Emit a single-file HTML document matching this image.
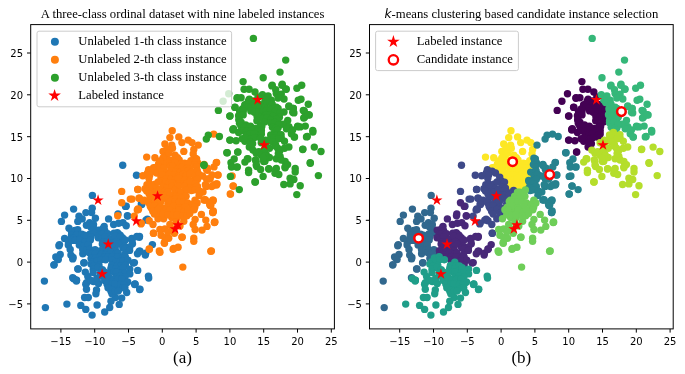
<!DOCTYPE html>
<html lang="en"><head><meta charset="utf-8"><title>Scatter figure</title><style>html,body{margin:0;padding:0;background:#fff}svg{display:block}</style></head><body>
<svg width="685" height="374" viewBox="0 0 685 374">
<rect width="685" height="374" fill="#fff"/>
<g opacity="0.999">
<defs><clipPath id="cl"><rect x="30.7" y="24.6" width="303.7" height="304.3"/></clipPath><clipPath id="cr"><rect x="369.5" y="24.6" width="303.7" height="304.3"/></clipPath></defs>
<g clip-path="url(#cl)">
<g fill="#1f77b4"><circle cx="44.4" cy="281.1" r="3.7"/><circle cx="45.4" cy="307.6" r="3.7"/><circle cx="66.9" cy="304.1" r="3.7"/><circle cx="54.1" cy="264.6" r="3.7"/><circle cx="57.1" cy="258.0" r="3.7"/><circle cx="78.1" cy="269.0" r="3.7"/><circle cx="73.7" cy="278.7" r="3.7"/><circle cx="76.5" cy="280.1" r="3.7"/><circle cx="145.3" cy="255.0" r="3.7"/><circle cx="148.4" cy="276.1" r="3.7"/><circle cx="137.7" cy="270.4" r="3.7"/><circle cx="133.3" cy="263.0" r="3.7"/><circle cx="139.7" cy="289.5" r="3.7"/><circle cx="134.7" cy="284.5" r="3.7"/><circle cx="83.8" cy="263.0" r="3.7"/><circle cx="73.1" cy="257.4" r="3.7"/><circle cx="92.4" cy="195.4" r="3.7"/><circle cx="125.5" cy="206.4" r="3.7"/><circle cx="127.7" cy="216.1" r="3.7"/><circle cx="141.3" cy="204.1" r="3.7"/><circle cx="147.4" cy="219.1" r="3.7"/><circle cx="139.3" cy="237.2" r="3.7"/><circle cx="131.7" cy="239.6" r="3.7"/><circle cx="152.4" cy="244.6" r="3.7"/><circle cx="139.3" cy="251.2" r="3.7"/><circle cx="132.0" cy="240.2" r="3.7"/><circle cx="140.0" cy="251.2" r="3.7"/><circle cx="146.0" cy="220.1" r="3.7"/><circle cx="122.7" cy="165.2" r="3.7"/><circle cx="136.5" cy="175.2" r="3.7"/><circle cx="141.7" cy="204.6" r="3.7"/><circle cx="139.5" cy="236.4" r="3.7"/><circle cx="73.6" cy="209.1" r="3.7"/><circle cx="64.6" cy="215.1" r="3.7"/><circle cx="61.4" cy="221.4" r="3.7"/><circle cx="92.2" cy="208.2" r="3.7"/><circle cx="91.6" cy="212.6" r="3.7"/><circle cx="85.9" cy="212.6" r="3.7"/><circle cx="79.0" cy="216.3" r="3.7"/><circle cx="82.2" cy="218.9" r="3.7"/><circle cx="77.8" cy="221.4" r="3.7"/><circle cx="95.4" cy="218.2" r="3.7"/><circle cx="89.7" cy="222.6" r="3.7"/><circle cx="93.5" cy="224.5" r="3.7"/><circle cx="69.0" cy="228.3" r="3.7"/><circle cx="71.5" cy="231.4" r="3.7"/><circle cx="108.6" cy="218.9" r="3.7"/><circle cx="104.2" cy="226.4" r="3.7"/><circle cx="126.2" cy="206.3" r="3.7"/><circle cx="118.0" cy="214.0" r="3.7"/><circle cx="127.4" cy="215.7" r="3.7"/><circle cx="113.6" cy="224.5" r="3.7"/><circle cx="118.6" cy="223.3" r="3.7"/><circle cx="123.0" cy="222.6" r="3.7"/><circle cx="126.2" cy="225.8" r="3.7"/><circle cx="64.6" cy="238.4" r="3.7"/><circle cx="68.3" cy="241.5" r="3.7"/><circle cx="59.5" cy="244.6" r="3.7"/><circle cx="117.4" cy="232.7" r="3.7"/><circle cx="122.4" cy="237.7" r="3.7"/><circle cx="131.8" cy="238.4" r="3.7"/><circle cx="136.9" cy="236.5" r="3.7"/><circle cx="58.9" cy="245.7" r="3.7"/><circle cx="60.2" cy="254.5" r="3.7"/><circle cx="55.8" cy="257.0" r="3.7"/><circle cx="58.3" cy="259.5" r="3.7"/><circle cx="53.9" cy="265.1" r="3.7"/><circle cx="68.3" cy="245.0" r="3.7"/><circle cx="70.2" cy="249.4" r="3.7"/><circle cx="70.9" cy="255.1" r="3.7"/><circle cx="72.7" cy="258.9" r="3.7"/><circle cx="77.8" cy="268.9" r="3.7"/><circle cx="84.1" cy="262.6" r="3.7"/><circle cx="72.7" cy="277.7" r="3.7"/><circle cx="76.5" cy="280.2" r="3.7"/><circle cx="85.3" cy="272.1" r="3.7"/><circle cx="87.8" cy="276.5" r="3.7"/><circle cx="86.6" cy="282.8" r="3.7"/><circle cx="93.5" cy="281.5" r="3.7"/><circle cx="98.5" cy="283.4" r="3.7"/><circle cx="82.8" cy="253.8" r="3.7"/><circle cx="88.5" cy="251.3" r="3.7"/><circle cx="82.2" cy="243.8" r="3.7"/><circle cx="86.6" cy="245.7" r="3.7"/><circle cx="134.4" cy="262.6" r="3.7"/><circle cx="137.5" cy="253.8" r="3.7"/><circle cx="132.5" cy="243.8" r="3.7"/><circle cx="135.0" cy="284.0" r="3.7"/><circle cx="145.7" cy="253.2" r="3.7"/><circle cx="76.4" cy="281.1" r="3.7"/><circle cx="85.8" cy="284.3" r="3.7"/><circle cx="86.5" cy="289.3" r="3.7"/><circle cx="96.5" cy="289.9" r="3.7"/><circle cx="95.9" cy="293.7" r="3.7"/><circle cx="84.6" cy="297.5" r="3.7"/><circle cx="88.3" cy="297.5" r="3.7"/><circle cx="80.8" cy="305.4" r="3.7"/><circle cx="85.8" cy="309.4" r="3.7"/><circle cx="92.1" cy="315.1" r="3.7"/><circle cx="97.1" cy="305.0" r="3.7"/><circle cx="104.7" cy="312.0" r="3.7"/><circle cx="109.7" cy="307.5" r="3.7"/><circle cx="111.0" cy="301.3" r="3.7"/><circle cx="119.2" cy="304.4" r="3.7"/><circle cx="115.4" cy="297.5" r="3.7"/><circle cx="121.7" cy="298.1" r="3.7"/><circle cx="126.7" cy="292.5" r="3.7"/><circle cx="111.0" cy="291.2" r="3.7"/><circle cx="114.8" cy="286.8" r="3.7"/><circle cx="119.8" cy="285.5" r="3.7"/><circle cx="126.1" cy="283.0" r="3.7"/><circle cx="134.9" cy="284.3" r="3.7"/><circle cx="139.9" cy="289.3" r="3.7"/><circle cx="148.7" cy="278.0" r="3.7"/><circle cx="97.1" cy="281.8" r="3.7"/><circle cx="90.9" cy="280.5" r="3.7"/><circle cx="86.4" cy="225.3" r="3.7"/><circle cx="90.8" cy="227.0" r="3.7"/><circle cx="93.2" cy="226.7" r="3.7"/><circle cx="74.8" cy="230.5" r="3.7"/><circle cx="77.7" cy="229.6" r="3.7"/><circle cx="93.0" cy="229.9" r="3.7"/><circle cx="98.4" cy="230.1" r="3.7"/><circle cx="102.8" cy="228.7" r="3.7"/><circle cx="104.8" cy="230.8" r="3.7"/><circle cx="71.5" cy="235.0" r="3.7"/><circle cx="76.5" cy="235.2" r="3.7"/><circle cx="81.8" cy="234.1" r="3.7"/><circle cx="84.5" cy="235.2" r="3.7"/><circle cx="90.1" cy="234.0" r="3.7"/><circle cx="94.5" cy="232.9" r="3.7"/><circle cx="100.5" cy="234.0" r="3.7"/><circle cx="102.2" cy="234.1" r="3.7"/><circle cx="107.7" cy="233.8" r="3.7"/><circle cx="114.0" cy="233.3" r="3.7"/><circle cx="118.6" cy="234.1" r="3.7"/><circle cx="120.2" cy="235.1" r="3.7"/><circle cx="71.4" cy="238.3" r="3.7"/><circle cx="73.1" cy="238.5" r="3.7"/><circle cx="79.8" cy="239.0" r="3.7"/><circle cx="84.2" cy="236.5" r="3.7"/><circle cx="86.5" cy="236.1" r="3.7"/><circle cx="91.0" cy="236.8" r="3.7"/><circle cx="98.2" cy="237.8" r="3.7"/><circle cx="101.7" cy="238.8" r="3.7"/><circle cx="104.8" cy="237.0" r="3.7"/><circle cx="110.8" cy="239.2" r="3.7"/><circle cx="115.2" cy="236.1" r="3.7"/><circle cx="120.5" cy="236.8" r="3.7"/><circle cx="72.4" cy="240.4" r="3.7"/><circle cx="75.3" cy="240.4" r="3.7"/><circle cx="79.8" cy="240.3" r="3.7"/><circle cx="84.9" cy="242.3" r="3.7"/><circle cx="90.4" cy="240.0" r="3.7"/><circle cx="103.0" cy="242.4" r="3.7"/><circle cx="107.3" cy="241.8" r="3.7"/><circle cx="114.3" cy="242.7" r="3.7"/><circle cx="116.4" cy="241.6" r="3.7"/><circle cx="122.1" cy="242.6" r="3.7"/><circle cx="125.2" cy="240.0" r="3.7"/><circle cx="79.3" cy="245.1" r="3.7"/><circle cx="83.7" cy="246.3" r="3.7"/><circle cx="88.5" cy="244.7" r="3.7"/><circle cx="102.3" cy="244.1" r="3.7"/><circle cx="105.2" cy="246.5" r="3.7"/><circle cx="109.5" cy="245.9" r="3.7"/><circle cx="115.1" cy="246.8" r="3.7"/><circle cx="118.7" cy="244.1" r="3.7"/><circle cx="124.8" cy="246.4" r="3.7"/><circle cx="129.8" cy="246.9" r="3.7"/><circle cx="82.7" cy="249.6" r="3.7"/><circle cx="87.1" cy="249.9" r="3.7"/><circle cx="89.9" cy="249.4" r="3.7"/><circle cx="95.1" cy="249.6" r="3.7"/><circle cx="100.6" cy="250.7" r="3.7"/><circle cx="103.4" cy="250.9" r="3.7"/><circle cx="107.2" cy="248.2" r="3.7"/><circle cx="111.6" cy="249.4" r="3.7"/><circle cx="115.7" cy="250.8" r="3.7"/><circle cx="122.8" cy="247.9" r="3.7"/><circle cx="125.2" cy="248.9" r="3.7"/><circle cx="129.6" cy="250.4" r="3.7"/><circle cx="89.0" cy="252.6" r="3.7"/><circle cx="92.5" cy="253.6" r="3.7"/><circle cx="95.4" cy="253.6" r="3.7"/><circle cx="101.3" cy="254.3" r="3.7"/><circle cx="105.4" cy="254.6" r="3.7"/><circle cx="110.7" cy="252.3" r="3.7"/><circle cx="115.9" cy="253.7" r="3.7"/><circle cx="118.1" cy="253.1" r="3.7"/><circle cx="124.6" cy="254.7" r="3.7"/><circle cx="91.1" cy="258.4" r="3.7"/><circle cx="95.6" cy="257.9" r="3.7"/><circle cx="100.4" cy="256.7" r="3.7"/><circle cx="104.3" cy="257.1" r="3.7"/><circle cx="107.9" cy="256.9" r="3.7"/><circle cx="112.4" cy="256.7" r="3.7"/><circle cx="117.6" cy="257.0" r="3.7"/><circle cx="123.3" cy="257.8" r="3.7"/><circle cx="125.3" cy="257.0" r="3.7"/><circle cx="92.6" cy="262.0" r="3.7"/><circle cx="97.2" cy="261.0" r="3.7"/><circle cx="101.0" cy="259.8" r="3.7"/><circle cx="105.6" cy="259.8" r="3.7"/><circle cx="112.0" cy="260.1" r="3.7"/><circle cx="116.0" cy="262.3" r="3.7"/><circle cx="120.1" cy="261.4" r="3.7"/><circle cx="122.9" cy="261.0" r="3.7"/><circle cx="128.0" cy="260.3" r="3.7"/><circle cx="91.0" cy="264.1" r="3.7"/><circle cx="93.9" cy="266.2" r="3.7"/><circle cx="99.0" cy="265.4" r="3.7"/><circle cx="111.6" cy="265.5" r="3.7"/><circle cx="117.4" cy="265.6" r="3.7"/><circle cx="120.6" cy="265.9" r="3.7"/><circle cx="125.4" cy="265.1" r="3.7"/><circle cx="93.2" cy="269.3" r="3.7"/><circle cx="98.0" cy="267.5" r="3.7"/><circle cx="102.4" cy="269.7" r="3.7"/><circle cx="110.9" cy="268.5" r="3.7"/><circle cx="115.9" cy="268.8" r="3.7"/><circle cx="120.4" cy="270.5" r="3.7"/><circle cx="123.4" cy="267.8" r="3.7"/><circle cx="129.8" cy="269.1" r="3.7"/><circle cx="93.2" cy="272.5" r="3.7"/><circle cx="100.4" cy="273.5" r="3.7"/><circle cx="104.4" cy="271.9" r="3.7"/><circle cx="108.1" cy="273.2" r="3.7"/><circle cx="114.3" cy="271.9" r="3.7"/><circle cx="116.4" cy="272.1" r="3.7"/><circle cx="122.6" cy="272.8" r="3.7"/><circle cx="124.8" cy="272.9" r="3.7"/><circle cx="129.8" cy="273.9" r="3.7"/><circle cx="96.9" cy="278.2" r="3.7"/><circle cx="100.6" cy="276.1" r="3.7"/><circle cx="104.7" cy="276.6" r="3.7"/><circle cx="109.2" cy="277.2" r="3.7"/><circle cx="116.0" cy="277.4" r="3.7"/><circle cx="120.4" cy="276.3" r="3.7"/><circle cx="125.1" cy="276.6" r="3.7"/><circle cx="104.7" cy="280.4" r="3.7"/><circle cx="109.5" cy="279.2" r="3.7"/><circle cx="113.6" cy="279.5" r="3.7"/><circle cx="117.6" cy="279.2" r="3.7"/><circle cx="121.9" cy="279.1" r="3.7"/><circle cx="127.7" cy="282.0" r="3.7"/><circle cx="107.0" cy="284.0" r="3.7"/><circle cx="112.0" cy="283.9" r="3.7"/><circle cx="115.1" cy="284.0" r="3.7"/><circle cx="120.8" cy="284.2" r="3.7"/><circle cx="123.8" cy="284.7" r="3.7"/><circle cx="108.0" cy="287.7" r="3.7"/><circle cx="112.3" cy="289.9" r="3.7"/><circle cx="118.6" cy="289.7" r="3.7"/><circle cx="123.1" cy="287.7" r="3.7"/><circle cx="124.9" cy="287.7" r="3.7"/><circle cx="112.0" cy="293.8" r="3.7"/><circle cx="115.3" cy="291.0" r="3.7"/><circle cx="118.2" cy="291.1" r="3.7"/></g>
<g fill="#ff7f0e"><circle cx="117.7" cy="215.7" r="3.7"/><circle cx="121.7" cy="191.4" r="3.7"/><circle cx="121.7" cy="202.7" r="3.7"/><circle cx="130.3" cy="199.1" r="3.7"/><circle cx="137.7" cy="189.4" r="3.7"/><circle cx="139.3" cy="198.1" r="3.7"/><circle cx="144.3" cy="200.1" r="3.7"/><circle cx="137.3" cy="210.1" r="3.7"/><circle cx="134.3" cy="216.1" r="3.7"/><circle cx="141.3" cy="223.1" r="3.7"/><circle cx="149.4" cy="249.2" r="3.7"/><circle cx="160.0" cy="252.2" r="3.7"/><circle cx="153.4" cy="233.2" r="3.7"/><circle cx="132.0" cy="199.1" r="3.7"/><circle cx="173.1" cy="249.2" r="3.7"/><circle cx="178.1" cy="247.2" r="3.7"/><circle cx="164.5" cy="243.2" r="3.7"/><circle cx="182.2" cy="237.2" r="3.7"/><circle cx="193.8" cy="238.2" r="3.7"/><circle cx="193.8" cy="241.2" r="3.7"/><circle cx="210.8" cy="251.2" r="3.7"/><circle cx="214.9" cy="222.1" r="3.7"/><circle cx="212.8" cy="212.1" r="3.7"/><circle cx="210.2" cy="204.1" r="3.7"/><circle cx="213.2" cy="200.1" r="3.7"/><circle cx="205.2" cy="200.1" r="3.7"/><circle cx="230.3" cy="194.0" r="3.7"/><circle cx="233.3" cy="186.0" r="3.7"/><circle cx="216.3" cy="184.0" r="3.7"/><circle cx="213.7" cy="134.1" r="3.7"/><circle cx="216.3" cy="162.6" r="3.7"/><circle cx="207.3" cy="170.2" r="3.7"/><circle cx="216.6" cy="162.4" r="3.7"/><circle cx="233.1" cy="186.1" r="3.7"/><circle cx="230.5" cy="194.1" r="3.7"/><circle cx="232.1" cy="176.0" r="3.7"/><circle cx="212.0" cy="175.0" r="3.7"/><circle cx="218.1" cy="175.0" r="3.7"/><circle cx="209.0" cy="179.0" r="3.7"/><circle cx="206.0" cy="186.0" r="3.7"/><circle cx="214.0" cy="185.0" r="3.7"/><circle cx="217.0" cy="184.0" r="3.7"/><circle cx="204.0" cy="200.0" r="3.7"/><circle cx="210.0" cy="203.0" r="3.7"/><circle cx="213.0" cy="201.0" r="3.7"/><circle cx="213.0" cy="212.6" r="3.7"/><circle cx="214.4" cy="222.6" r="3.7"/><circle cx="172.2" cy="130.7" r="3.7"/><circle cx="169.9" cy="137.6" r="3.7"/><circle cx="178.8" cy="136.9" r="3.7"/><circle cx="164.9" cy="143.9" r="3.7"/><circle cx="171.8" cy="145.1" r="3.7"/><circle cx="172.5" cy="148.3" r="3.7"/><circle cx="181.9" cy="142.6" r="3.7"/><circle cx="188.2" cy="140.1" r="3.7"/><circle cx="192.0" cy="142.6" r="3.7"/><circle cx="198.2" cy="145.1" r="3.7"/><circle cx="183.8" cy="151.4" r="3.7"/><circle cx="163.0" cy="151.4" r="3.7"/><circle cx="193.8" cy="149.5" r="3.7"/><circle cx="193.2" cy="153.9" r="3.7"/><circle cx="146.7" cy="157.1" r="3.7"/><circle cx="154.9" cy="157.7" r="3.7"/><circle cx="166.2" cy="156.4" r="3.7"/><circle cx="175.0" cy="155.2" r="3.7"/><circle cx="177.5" cy="157.7" r="3.7"/><circle cx="195.1" cy="158.3" r="3.7"/><circle cx="192.6" cy="161.5" r="3.7"/><circle cx="197.6" cy="162.7" r="3.7"/><circle cx="158.6" cy="164.0" r="3.7"/><circle cx="153.6" cy="167.8" r="3.7"/><circle cx="148.6" cy="169.6" r="3.7"/><circle cx="206.4" cy="169.0" r="3.7"/><circle cx="167.0" cy="149.0" r="3.7"/><circle cx="169.0" cy="153.0" r="3.7"/><circle cx="163.0" cy="158.0" r="3.7"/><circle cx="160.0" cy="161.0" r="3.7"/><circle cx="142.9" cy="175.7" r="3.7"/><circle cx="148.6" cy="171.3" r="3.7"/><circle cx="137.9" cy="189.5" r="3.7"/><circle cx="139.1" cy="198.3" r="3.7"/><circle cx="143.5" cy="200.8" r="3.7"/><circle cx="137.9" cy="209.0" r="3.7"/><circle cx="151.1" cy="207.8" r="3.7"/><circle cx="214.0" cy="166.9" r="3.7"/><circle cx="217.7" cy="175.1" r="3.7"/><circle cx="210.2" cy="178.8" r="3.7"/><circle cx="216.5" cy="185.1" r="3.7"/><circle cx="206.4" cy="186.4" r="3.7"/><circle cx="205.2" cy="199.6" r="3.7"/><circle cx="212.7" cy="200.2" r="3.7"/><circle cx="210.8" cy="205.2" r="3.7"/><circle cx="213.3" cy="210.9" r="3.7"/><circle cx="196.6" cy="158.9" r="3.7"/><circle cx="204.1" cy="164.5" r="3.7"/><circle cx="207.3" cy="168.3" r="3.7"/><circle cx="206.6" cy="179.0" r="3.7"/><circle cx="205.4" cy="184.6" r="3.7"/><circle cx="211.7" cy="186.5" r="3.7"/><circle cx="202.5" cy="176.0" r="3.7"/><circle cx="203.0" cy="192.0" r="3.7"/><circle cx="209.8" cy="204.5" r="3.7"/><circle cx="182.8" cy="267.1" r="3.7"/><circle cx="138.5" cy="209.4" r="3.7"/><circle cx="149.2" cy="220.7" r="3.7"/><circle cx="153.0" cy="224.5" r="3.7"/><circle cx="141.0" cy="223.9" r="3.7"/><circle cx="153.6" cy="233.3" r="3.7"/><circle cx="163.7" cy="218.8" r="3.7"/><circle cx="158.0" cy="218.8" r="3.7"/><circle cx="171.8" cy="217.6" r="3.7"/><circle cx="169.9" cy="224.5" r="3.7"/><circle cx="159.9" cy="229.5" r="3.7"/><circle cx="164.9" cy="228.9" r="3.7"/><circle cx="161.1" cy="235.2" r="3.7"/><circle cx="164.9" cy="237.7" r="3.7"/><circle cx="164.3" cy="242.7" r="3.7"/><circle cx="168.7" cy="238.3" r="3.7"/><circle cx="174.4" cy="233.3" r="3.7"/><circle cx="181.9" cy="237.1" r="3.7"/><circle cx="173.7" cy="248.4" r="3.7"/><circle cx="149.2" cy="249.0" r="3.7"/><circle cx="159.3" cy="250.9" r="3.7"/><circle cx="211.4" cy="250.9" r="3.7"/><circle cx="195.1" cy="219.5" r="3.7"/><circle cx="201.4" cy="214.4" r="3.7"/><circle cx="205.8" cy="220.1" r="3.7"/><circle cx="207.0" cy="226.4" r="3.7"/><circle cx="202.0" cy="230.1" r="3.7"/><circle cx="195.1" cy="229.5" r="3.7"/><circle cx="193.2" cy="224.5" r="3.7"/><circle cx="214.6" cy="222.0" r="3.7"/><circle cx="212.7" cy="212.5" r="3.7"/><circle cx="210.2" cy="205.6" r="3.7"/><circle cx="183.8" cy="221.3" r="3.7"/><circle cx="177.5" cy="217.6" r="3.7"/><circle cx="176.0" cy="222.0" r="3.7"/><circle cx="180.0" cy="226.0" r="3.7"/><circle cx="172.0" cy="229.0" r="3.7"/><circle cx="168.0" cy="232.0" r="3.7"/><circle cx="169.7" cy="160.2" r="3.7"/><circle cx="172.2" cy="160.6" r="3.7"/><circle cx="179.2" cy="159.9" r="3.7"/><circle cx="191.0" cy="160.8" r="3.7"/><circle cx="195.9" cy="161.4" r="3.7"/><circle cx="163.0" cy="164.2" r="3.7"/><circle cx="167.3" cy="162.8" r="3.7"/><circle cx="170.3" cy="163.9" r="3.7"/><circle cx="175.0" cy="162.4" r="3.7"/><circle cx="181.5" cy="163.6" r="3.7"/><circle cx="184.5" cy="163.3" r="3.7"/><circle cx="188.2" cy="163.5" r="3.7"/><circle cx="194.6" cy="164.6" r="3.7"/><circle cx="155.8" cy="167.4" r="3.7"/><circle cx="159.7" cy="167.5" r="3.7"/><circle cx="163.8" cy="167.9" r="3.7"/><circle cx="170.3" cy="166.5" r="3.7"/><circle cx="172.7" cy="166.3" r="3.7"/><circle cx="178.5" cy="168.2" r="3.7"/><circle cx="181.3" cy="167.5" r="3.7"/><circle cx="187.2" cy="168.3" r="3.7"/><circle cx="190.2" cy="169.0" r="3.7"/><circle cx="196.6" cy="166.6" r="3.7"/><circle cx="147.6" cy="173.0" r="3.7"/><circle cx="153.3" cy="171.2" r="3.7"/><circle cx="156.7" cy="173.0" r="3.7"/><circle cx="161.7" cy="171.8" r="3.7"/><circle cx="166.8" cy="172.7" r="3.7"/><circle cx="171.4" cy="170.6" r="3.7"/><circle cx="175.8" cy="171.6" r="3.7"/><circle cx="180.2" cy="172.3" r="3.7"/><circle cx="183.7" cy="170.7" r="3.7"/><circle cx="187.8" cy="170.9" r="3.7"/><circle cx="191.9" cy="172.1" r="3.7"/><circle cx="197.3" cy="170.7" r="3.7"/><circle cx="149.8" cy="174.9" r="3.7"/><circle cx="160.9" cy="177.1" r="3.7"/><circle cx="162.8" cy="174.7" r="3.7"/><circle cx="169.2" cy="174.5" r="3.7"/><circle cx="174.4" cy="174.7" r="3.7"/><circle cx="178.5" cy="176.1" r="3.7"/><circle cx="183.2" cy="174.1" r="3.7"/><circle cx="185.9" cy="176.2" r="3.7"/><circle cx="189.9" cy="174.1" r="3.7"/><circle cx="195.3" cy="175.9" r="3.7"/><circle cx="198.8" cy="174.2" r="3.7"/><circle cx="149.0" cy="178.5" r="3.7"/><circle cx="162.4" cy="180.9" r="3.7"/><circle cx="166.3" cy="178.6" r="3.7"/><circle cx="170.8" cy="179.3" r="3.7"/><circle cx="175.5" cy="179.6" r="3.7"/><circle cx="178.5" cy="178.4" r="3.7"/><circle cx="184.3" cy="180.2" r="3.7"/><circle cx="189.9" cy="180.4" r="3.7"/><circle cx="193.5" cy="181.0" r="3.7"/><circle cx="197.5" cy="179.4" r="3.7"/><circle cx="147.0" cy="184.6" r="3.7"/><circle cx="150.5" cy="184.5" r="3.7"/><circle cx="155.1" cy="184.1" r="3.7"/><circle cx="158.2" cy="181.9" r="3.7"/><circle cx="165.7" cy="182.1" r="3.7"/><circle cx="169.3" cy="182.7" r="3.7"/><circle cx="172.3" cy="183.0" r="3.7"/><circle cx="179.1" cy="183.6" r="3.7"/><circle cx="183.6" cy="184.1" r="3.7"/><circle cx="186.8" cy="183.4" r="3.7"/><circle cx="190.4" cy="181.8" r="3.7"/><circle cx="195.5" cy="183.6" r="3.7"/><circle cx="145.1" cy="188.7" r="3.7"/><circle cx="149.9" cy="188.3" r="3.7"/><circle cx="151.8" cy="186.8" r="3.7"/><circle cx="156.6" cy="188.5" r="3.7"/><circle cx="162.9" cy="186.8" r="3.7"/><circle cx="166.7" cy="188.3" r="3.7"/><circle cx="172.1" cy="186.4" r="3.7"/><circle cx="176.2" cy="188.3" r="3.7"/><circle cx="178.5" cy="186.1" r="3.7"/><circle cx="184.3" cy="186.4" r="3.7"/><circle cx="190.2" cy="188.0" r="3.7"/><circle cx="194.2" cy="188.2" r="3.7"/><circle cx="197.5" cy="186.5" r="3.7"/><circle cx="146.7" cy="191.0" r="3.7"/><circle cx="152.1" cy="191.7" r="3.7"/><circle cx="154.9" cy="192.4" r="3.7"/><circle cx="159.4" cy="190.2" r="3.7"/><circle cx="165.2" cy="191.1" r="3.7"/><circle cx="168.0" cy="191.9" r="3.7"/><circle cx="174.8" cy="190.4" r="3.7"/><circle cx="178.7" cy="192.1" r="3.7"/><circle cx="181.0" cy="192.3" r="3.7"/><circle cx="186.6" cy="190.0" r="3.7"/><circle cx="191.4" cy="190.6" r="3.7"/><circle cx="194.7" cy="189.9" r="3.7"/><circle cx="199.3" cy="191.0" r="3.7"/><circle cx="149.2" cy="193.9" r="3.7"/><circle cx="152.0" cy="195.8" r="3.7"/><circle cx="158.7" cy="196.7" r="3.7"/><circle cx="162.5" cy="195.1" r="3.7"/><circle cx="165.2" cy="195.3" r="3.7"/><circle cx="170.0" cy="195.2" r="3.7"/><circle cx="175.8" cy="196.2" r="3.7"/><circle cx="179.4" cy="196.7" r="3.7"/><circle cx="186.1" cy="196.2" r="3.7"/><circle cx="199.1" cy="195.6" r="3.7"/><circle cx="150.3" cy="198.0" r="3.7"/><circle cx="156.5" cy="200.1" r="3.7"/><circle cx="159.8" cy="198.9" r="3.7"/><circle cx="164.2" cy="198.3" r="3.7"/><circle cx="168.4" cy="198.9" r="3.7"/><circle cx="171.7" cy="200.3" r="3.7"/><circle cx="176.2" cy="198.7" r="3.7"/><circle cx="181.0" cy="198.1" r="3.7"/><circle cx="195.0" cy="200.3" r="3.7"/><circle cx="148.5" cy="202.6" r="3.7"/><circle cx="152.5" cy="204.4" r="3.7"/><circle cx="158.1" cy="203.1" r="3.7"/><circle cx="160.5" cy="202.2" r="3.7"/><circle cx="167.9" cy="203.2" r="3.7"/><circle cx="170.5" cy="201.4" r="3.7"/><circle cx="174.7" cy="202.2" r="3.7"/><circle cx="178.9" cy="202.5" r="3.7"/><circle cx="183.5" cy="201.6" r="3.7"/><circle cx="187.7" cy="203.0" r="3.7"/><circle cx="192.1" cy="204.4" r="3.7"/><circle cx="197.1" cy="202.9" r="3.7"/><circle cx="150.2" cy="206.0" r="3.7"/><circle cx="154.5" cy="205.7" r="3.7"/><circle cx="160.4" cy="207.4" r="3.7"/><circle cx="163.6" cy="208.1" r="3.7"/><circle cx="168.4" cy="207.3" r="3.7"/><circle cx="173.3" cy="206.3" r="3.7"/><circle cx="179.1" cy="208.0" r="3.7"/><circle cx="183.3" cy="208.3" r="3.7"/><circle cx="185.2" cy="206.9" r="3.7"/><circle cx="192.7" cy="205.7" r="3.7"/><circle cx="194.9" cy="206.9" r="3.7"/><circle cx="152.8" cy="211.2" r="3.7"/><circle cx="158.2" cy="209.5" r="3.7"/><circle cx="163.3" cy="211.8" r="3.7"/><circle cx="166.1" cy="209.8" r="3.7"/><circle cx="169.6" cy="210.2" r="3.7"/><circle cx="176.2" cy="211.8" r="3.7"/><circle cx="179.4" cy="209.9" r="3.7"/><circle cx="183.9" cy="212.3" r="3.7"/><circle cx="187.7" cy="209.7" r="3.7"/><circle cx="194.1" cy="209.7" r="3.7"/><circle cx="154.4" cy="214.1" r="3.7"/><circle cx="161.0" cy="213.2" r="3.7"/><circle cx="162.9" cy="214.2" r="3.7"/><circle cx="167.9" cy="214.9" r="3.7"/><circle cx="173.4" cy="214.7" r="3.7"/><circle cx="177.1" cy="214.8" r="3.7"/><circle cx="183.2" cy="215.7" r="3.7"/><circle cx="186.9" cy="215.7" r="3.7"/><circle cx="189.8" cy="213.6" r="3.7"/></g>
<g fill="#2ca02c"><circle cx="239.3" cy="189.6" r="3.7"/><circle cx="255.4" cy="182.0" r="3.7"/><circle cx="218.4" cy="110.4" r="3.7"/><circle cx="208.3" cy="135.1" r="3.7"/><circle cx="206.3" cy="139.1" r="3.7"/><circle cx="219.4" cy="136.5" r="3.7"/><circle cx="203.9" cy="165.2" r="3.7"/><circle cx="230.0" cy="116.0" r="3.7"/><circle cx="226.8" cy="152.7" r="3.7"/><circle cx="235.1" cy="107.4" r="3.7"/><circle cx="230.1" cy="140.1" r="3.7"/><circle cx="233.1" cy="130.1" r="3.7"/><circle cx="237.7" cy="152.1" r="3.7"/><circle cx="302.9" cy="149.1" r="3.7"/><circle cx="314.3" cy="147.1" r="3.7"/><circle cx="321.0" cy="151.5" r="3.7"/><circle cx="310.3" cy="163.2" r="3.7"/><circle cx="318.4" cy="175.6" r="3.7"/><circle cx="312.9" cy="132.1" r="3.7"/><circle cx="307.3" cy="136.5" r="3.7"/><circle cx="305.3" cy="126.1" r="3.7"/><circle cx="297.7" cy="126.7" r="3.7"/><circle cx="294.3" cy="137.1" r="3.7"/><circle cx="309.3" cy="115.0" r="3.7"/><circle cx="303.7" cy="118.0" r="3.7"/><circle cx="304.3" cy="111.0" r="3.7"/><circle cx="253.4" cy="38.4" r="3.7"/><circle cx="285.7" cy="60.1" r="3.7"/><circle cx="280.0" cy="72.1" r="3.7"/><circle cx="263.2" cy="77.7" r="3.7"/><circle cx="243.1" cy="81.6" r="3.7"/><circle cx="244.1" cy="89.2" r="3.7"/><circle cx="249.1" cy="89.2" r="3.7"/><circle cx="272.2" cy="85.2" r="3.7"/><circle cx="282.2" cy="84.2" r="3.7"/><circle cx="286.3" cy="89.2" r="3.7"/><circle cx="296.9" cy="88.2" r="3.7"/><circle cx="301.7" cy="85.2" r="3.7"/><circle cx="237.1" cy="98.2" r="3.7"/><circle cx="298.3" cy="100.2" r="3.7"/><circle cx="308.3" cy="104.2" r="3.7"/><circle cx="228.7" cy="93.8" r="3.7"/><circle cx="223.1" cy="101.2" r="3.7"/><circle cx="271.9" cy="85.9" r="3.7"/><circle cx="275.7" cy="89.7" r="3.7"/><circle cx="282.0" cy="85.3" r="3.7"/><circle cx="285.7" cy="89.0" r="3.7"/><circle cx="237.3" cy="97.8" r="3.7"/><circle cx="241.1" cy="97.8" r="3.7"/><circle cx="249.3" cy="99.1" r="3.7"/><circle cx="262.5" cy="94.7" r="3.7"/><circle cx="268.1" cy="95.9" r="3.7"/><circle cx="271.3" cy="100.3" r="3.7"/><circle cx="276.3" cy="93.4" r="3.7"/><circle cx="281.3" cy="94.1" r="3.7"/><circle cx="301.0" cy="99.2" r="3.7"/><circle cx="234.8" cy="107.3" r="3.7"/><circle cx="244.9" cy="105.4" r="3.7"/><circle cx="229.8" cy="116.1" r="3.7"/><circle cx="288.9" cy="106.6" r="3.7"/><circle cx="293.3" cy="108.5" r="3.7"/><circle cx="293.9" cy="112.9" r="3.7"/><circle cx="303.3" cy="110.4" r="3.7"/><circle cx="304.6" cy="117.3" r="3.7"/><circle cx="239.8" cy="115.4" r="3.7"/><circle cx="239.2" cy="120.5" r="3.7"/><circle cx="233.5" cy="128.6" r="3.7"/><circle cx="297.7" cy="126.1" r="3.7"/><circle cx="255.0" cy="92.0" r="3.7"/><circle cx="258.0" cy="97.0" r="3.7"/><circle cx="254.0" cy="101.0" r="3.7"/><circle cx="265.0" cy="100.0" r="3.7"/><circle cx="278.0" cy="98.0" r="3.7"/><circle cx="284.0" cy="99.0" r="3.7"/><circle cx="288.9" cy="106.0" r="3.7"/><circle cx="293.3" cy="108.5" r="3.7"/><circle cx="292.7" cy="112.3" r="3.7"/><circle cx="276.3" cy="107.3" r="3.7"/><circle cx="277.6" cy="120.5" r="3.7"/><circle cx="287.7" cy="120.5" r="3.7"/><circle cx="283.3" cy="124.2" r="3.7"/><circle cx="278.2" cy="127.4" r="3.7"/><circle cx="288.9" cy="126.8" r="3.7"/><circle cx="308.4" cy="114.8" r="3.7"/><circle cx="312.8" cy="130.5" r="3.7"/><circle cx="284.0" cy="112.0" r="3.7"/><circle cx="232.9" cy="129.4" r="3.7"/><circle cx="238.6" cy="132.5" r="3.7"/><circle cx="229.8" cy="140.1" r="3.7"/><circle cx="236.1" cy="140.7" r="3.7"/><circle cx="242.3" cy="138.8" r="3.7"/><circle cx="244.9" cy="141.3" r="3.7"/><circle cx="249.3" cy="147.0" r="3.7"/><circle cx="253.0" cy="150.1" r="3.7"/><circle cx="256.2" cy="153.3" r="3.7"/><circle cx="227.3" cy="152.7" r="3.7"/><circle cx="237.9" cy="152.0" r="3.7"/><circle cx="234.2" cy="158.9" r="3.7"/><circle cx="231.0" cy="162.7" r="3.7"/><circle cx="236.7" cy="167.1" r="3.7"/><circle cx="231.5" cy="167.1" r="3.7"/><circle cx="248.0" cy="158.9" r="3.7"/><circle cx="244.9" cy="162.1" r="3.7"/><circle cx="248.6" cy="170.3" r="3.7"/><circle cx="256.2" cy="161.5" r="3.7"/><circle cx="256.8" cy="166.5" r="3.7"/><circle cx="263.7" cy="161.5" r="3.7"/><circle cx="266.2" cy="154.5" r="3.7"/><circle cx="268.8" cy="169.0" r="3.7"/><circle cx="276.3" cy="168.4" r="3.7"/><circle cx="280.1" cy="156.4" r="3.7"/><circle cx="285.1" cy="161.5" r="3.7"/><circle cx="287.6" cy="164.6" r="3.7"/><circle cx="285.1" cy="167.8" r="3.7"/><circle cx="295.2" cy="168.4" r="3.7"/><circle cx="302.7" cy="149.5" r="3.7"/><circle cx="310.2" cy="162.7" r="3.7"/><circle cx="288.9" cy="147.0" r="3.7"/><circle cx="284.5" cy="148.3" r="3.7"/><circle cx="306.5" cy="136.9" r="3.7"/><circle cx="294.5" cy="136.9" r="3.7"/><circle cx="291.4" cy="133.8" r="3.7"/><circle cx="284.5" cy="141.3" r="3.7"/><circle cx="281.3" cy="138.2" r="3.7"/><circle cx="300.2" cy="126.9" r="3.7"/><circle cx="286.4" cy="128.8" r="3.7"/><circle cx="292.6" cy="130.0" r="3.7"/><circle cx="237.3" cy="166.9" r="3.7"/><circle cx="247.4" cy="158.8" r="3.7"/><circle cx="248.6" cy="172.6" r="3.7"/><circle cx="230.4" cy="176.4" r="3.7"/><circle cx="254.9" cy="182.0" r="3.7"/><circle cx="255.5" cy="160.0" r="3.7"/><circle cx="256.2" cy="165.1" r="3.7"/><circle cx="260.6" cy="169.5" r="3.7"/><circle cx="263.1" cy="176.4" r="3.7"/><circle cx="265.0" cy="161.3" r="3.7"/><circle cx="268.8" cy="168.8" r="3.7"/><circle cx="269.4" cy="157.5" r="3.7"/><circle cx="276.3" cy="158.8" r="3.7"/><circle cx="275.7" cy="169.5" r="3.7"/><circle cx="275.0" cy="173.2" r="3.7"/><circle cx="278.8" cy="174.5" r="3.7"/><circle cx="281.3" cy="160.0" r="3.7"/><circle cx="285.1" cy="166.9" r="3.7"/><circle cx="295.2" cy="172.0" r="3.7"/><circle cx="290.1" cy="178.3" r="3.7"/><circle cx="293.9" cy="179.5" r="3.7"/><circle cx="290.1" cy="183.9" r="3.7"/><circle cx="283.8" cy="184.5" r="3.7"/><circle cx="300.2" cy="185.8" r="3.7"/><circle cx="296.8" cy="194.6" r="3.7"/><circle cx="204.0" cy="165.0" r="3.7"/><circle cx="248.3" cy="101.3" r="3.7"/><circle cx="244.9" cy="104.8" r="3.7"/><circle cx="248.6" cy="103.0" r="3.7"/><circle cx="253.4" cy="105.3" r="3.7"/><circle cx="259.8" cy="104.5" r="3.7"/><circle cx="264.0" cy="105.0" r="3.7"/><circle cx="266.9" cy="102.6" r="3.7"/><circle cx="272.2" cy="104.1" r="3.7"/><circle cx="242.4" cy="109.0" r="3.7"/><circle cx="247.3" cy="107.1" r="3.7"/><circle cx="250.8" cy="107.7" r="3.7"/><circle cx="255.1" cy="106.9" r="3.7"/><circle cx="260.5" cy="106.5" r="3.7"/><circle cx="264.9" cy="107.4" r="3.7"/><circle cx="270.2" cy="108.6" r="3.7"/><circle cx="274.6" cy="108.4" r="3.7"/><circle cx="278.1" cy="108.4" r="3.7"/><circle cx="239.7" cy="111.6" r="3.7"/><circle cx="243.3" cy="110.9" r="3.7"/><circle cx="250.8" cy="110.9" r="3.7"/><circle cx="254.4" cy="112.2" r="3.7"/><circle cx="259.0" cy="111.7" r="3.7"/><circle cx="263.1" cy="110.4" r="3.7"/><circle cx="265.9" cy="110.8" r="3.7"/><circle cx="270.6" cy="110.5" r="3.7"/><circle cx="275.1" cy="111.9" r="3.7"/><circle cx="279.8" cy="113.2" r="3.7"/><circle cx="238.6" cy="115.8" r="3.7"/><circle cx="243.2" cy="114.9" r="3.7"/><circle cx="257.1" cy="116.4" r="3.7"/><circle cx="261.0" cy="117.0" r="3.7"/><circle cx="265.4" cy="115.2" r="3.7"/><circle cx="269.7" cy="114.7" r="3.7"/><circle cx="273.0" cy="116.4" r="3.7"/><circle cx="279.4" cy="117.2" r="3.7"/><circle cx="238.9" cy="119.5" r="3.7"/><circle cx="256.9" cy="120.8" r="3.7"/><circle cx="263.2" cy="118.4" r="3.7"/><circle cx="267.0" cy="118.1" r="3.7"/><circle cx="270.8" cy="120.3" r="3.7"/><circle cx="276.7" cy="119.5" r="3.7"/><circle cx="239.5" cy="123.3" r="3.7"/><circle cx="241.1" cy="122.1" r="3.7"/><circle cx="245.7" cy="125.0" r="3.7"/><circle cx="261.1" cy="124.8" r="3.7"/><circle cx="264.5" cy="122.1" r="3.7"/><circle cx="270.7" cy="122.8" r="3.7"/><circle cx="274.8" cy="122.4" r="3.7"/><circle cx="279.1" cy="124.6" r="3.7"/><circle cx="241.0" cy="126.3" r="3.7"/><circle cx="244.2" cy="127.1" r="3.7"/><circle cx="250.5" cy="126.3" r="3.7"/><circle cx="255.0" cy="128.4" r="3.7"/><circle cx="259.8" cy="127.0" r="3.7"/><circle cx="261.8" cy="126.6" r="3.7"/><circle cx="272.4" cy="127.3" r="3.7"/><circle cx="275.6" cy="128.5" r="3.7"/><circle cx="243.6" cy="130.7" r="3.7"/><circle cx="246.3" cy="131.1" r="3.7"/><circle cx="251.6" cy="130.0" r="3.7"/><circle cx="257.1" cy="131.4" r="3.7"/><circle cx="261.4" cy="130.5" r="3.7"/><circle cx="274.6" cy="132.4" r="3.7"/><circle cx="277.0" cy="129.9" r="3.7"/><circle cx="246.3" cy="135.2" r="3.7"/><circle cx="250.3" cy="133.9" r="3.7"/><circle cx="253.7" cy="133.8" r="3.7"/><circle cx="259.5" cy="135.1" r="3.7"/><circle cx="261.4" cy="133.9" r="3.7"/><circle cx="270.7" cy="135.0" r="3.7"/><circle cx="276.2" cy="135.5" r="3.7"/><circle cx="281.1" cy="134.8" r="3.7"/><circle cx="245.9" cy="138.3" r="3.7"/><circle cx="250.7" cy="139.1" r="3.7"/><circle cx="254.4" cy="137.6" r="3.7"/><circle cx="260.4" cy="138.1" r="3.7"/><circle cx="265.6" cy="140.1" r="3.7"/><circle cx="269.8" cy="139.8" r="3.7"/><circle cx="273.7" cy="137.7" r="3.7"/><circle cx="278.3" cy="138.7" r="3.7"/><circle cx="250.6" cy="142.3" r="3.7"/><circle cx="252.6" cy="143.7" r="3.7"/><circle cx="261.3" cy="142.8" r="3.7"/><circle cx="265.7" cy="142.3" r="3.7"/><circle cx="272.4" cy="141.7" r="3.7"/><circle cx="275.6" cy="144.6" r="3.7"/><circle cx="265.9" cy="145.7" r="3.7"/><circle cx="269.5" cy="148.2" r="3.7"/><circle cx="275.4" cy="146.1" r="3.7"/><circle cx="277.7" cy="148.3" r="3.7"/><circle cx="258.8" cy="151.8" r="3.7"/><circle cx="264.0" cy="150.1" r="3.7"/><circle cx="279.7" cy="151.0" r="3.7"/><circle cx="261.0" cy="154.9" r="3.7"/><circle cx="265.2" cy="156.0" r="3.7"/><circle cx="278.3" cy="153.5" r="3.7"/><circle cx="263.1" cy="158.0" r="3.7"/></g>
<polygon points="98.08,194.31 99.40,198.39 103.69,198.39 100.22,200.91 101.55,204.99 98.08,202.47 94.61,204.99 95.94,200.91 92.47,198.39 96.76,198.39" fill="#ff0000"/>
<polygon points="136.27,215.22 137.60,219.30 141.89,219.30 138.42,221.82 139.74,225.89 136.27,223.37 132.81,225.89 134.13,221.82 130.66,219.30 134.95,219.30" fill="#ff0000"/>
<polygon points="108.22,238.30 109.54,242.38 113.83,242.38 110.36,244.90 111.69,248.98 108.22,246.46 104.75,248.98 106.08,244.90 102.61,242.38 106.90,242.38" fill="#ff0000"/>
<polygon points="157.57,190.13 158.89,194.21 163.18,194.21 159.71,196.73 161.04,200.81 157.57,198.29 154.10,200.81 155.42,196.73 151.96,194.21 156.24,194.21" fill="#ff0000"/>
<polygon points="178.12,219.24 179.44,223.31 183.73,223.31 180.26,225.83 181.59,229.91 178.12,227.39 174.65,229.91 175.98,225.83 172.51,223.31 176.79,223.31" fill="#ff0000"/>
<polygon points="175.14,223.17 176.47,227.24 180.76,227.24 177.29,229.76 178.61,233.84 175.14,231.32 171.68,233.84 173.00,229.76 169.53,227.24 173.82,227.24" fill="#ff0000"/>
<polygon points="102.14,268.16 103.46,272.24 107.75,272.24 104.28,274.76 105.60,278.83 102.14,276.31 98.67,278.83 99.99,274.76 96.52,272.24 100.81,272.24" fill="#ff0000"/>
<polygon points="264.17,139.20 265.50,143.28 269.78,143.28 266.32,145.80 267.64,149.87 264.17,147.36 260.71,149.87 262.03,145.80 258.56,143.28 262.85,143.28" fill="#ff0000"/>
<polygon points="257.62,93.96 258.94,98.03 263.23,98.03 259.76,100.55 261.08,104.63 257.62,102.11 254.15,104.63 255.47,100.55 252.00,98.03 256.29,98.03" fill="#ff0000"/>
</g>
<g clip-path="url(#cr)">
<g fill="#440154"><circle cx="557.2" cy="110.4" r="3.7"/><circle cx="568.8" cy="116.0" r="3.7"/><circle cx="573.9" cy="107.4" r="3.7"/><circle cx="568.9" cy="140.1" r="3.7"/><circle cx="571.9" cy="130.1" r="3.7"/><circle cx="576.5" cy="152.1" r="3.7"/><circle cx="581.9" cy="81.6" r="3.7"/><circle cx="582.9" cy="89.2" r="3.7"/><circle cx="587.9" cy="89.2" r="3.7"/><circle cx="575.9" cy="98.2" r="3.7"/><circle cx="567.5" cy="93.8" r="3.7"/><circle cx="561.9" cy="101.2" r="3.7"/><circle cx="576.1" cy="97.8" r="3.7"/><circle cx="579.9" cy="97.8" r="3.7"/><circle cx="588.1" cy="99.1" r="3.7"/><circle cx="573.6" cy="107.3" r="3.7"/><circle cx="583.7" cy="105.4" r="3.7"/><circle cx="568.6" cy="116.1" r="3.7"/><circle cx="578.6" cy="115.4" r="3.7"/><circle cx="578.0" cy="120.5" r="3.7"/><circle cx="572.3" cy="128.6" r="3.7"/><circle cx="593.8" cy="92.0" r="3.7"/><circle cx="596.8" cy="97.0" r="3.7"/><circle cx="592.8" cy="101.0" r="3.7"/><circle cx="571.7" cy="129.4" r="3.7"/><circle cx="577.4" cy="132.5" r="3.7"/><circle cx="568.6" cy="140.1" r="3.7"/><circle cx="574.9" cy="140.7" r="3.7"/><circle cx="581.1" cy="138.8" r="3.7"/><circle cx="583.7" cy="141.3" r="3.7"/><circle cx="588.1" cy="147.0" r="3.7"/><circle cx="576.7" cy="152.0" r="3.7"/><circle cx="587.1" cy="101.3" r="3.7"/><circle cx="583.7" cy="104.8" r="3.7"/><circle cx="587.4" cy="103.0" r="3.7"/><circle cx="592.2" cy="105.3" r="3.7"/><circle cx="598.6" cy="104.5" r="3.7"/><circle cx="602.8" cy="105.0" r="3.7"/><circle cx="581.2" cy="109.0" r="3.7"/><circle cx="586.1" cy="107.1" r="3.7"/><circle cx="589.6" cy="107.7" r="3.7"/><circle cx="593.9" cy="106.9" r="3.7"/><circle cx="599.3" cy="106.5" r="3.7"/><circle cx="603.7" cy="107.4" r="3.7"/><circle cx="578.5" cy="111.6" r="3.7"/><circle cx="582.1" cy="110.9" r="3.7"/><circle cx="589.6" cy="110.9" r="3.7"/><circle cx="593.2" cy="112.2" r="3.7"/><circle cx="597.8" cy="111.7" r="3.7"/><circle cx="601.9" cy="110.4" r="3.7"/><circle cx="604.7" cy="110.8" r="3.7"/><circle cx="577.4" cy="115.8" r="3.7"/><circle cx="582.0" cy="114.9" r="3.7"/><circle cx="595.9" cy="116.4" r="3.7"/><circle cx="599.8" cy="117.0" r="3.7"/><circle cx="604.2" cy="115.2" r="3.7"/><circle cx="577.7" cy="119.5" r="3.7"/><circle cx="595.7" cy="120.8" r="3.7"/><circle cx="602.0" cy="118.4" r="3.7"/><circle cx="605.8" cy="118.1" r="3.7"/><circle cx="578.3" cy="123.3" r="3.7"/><circle cx="579.9" cy="122.1" r="3.7"/><circle cx="584.5" cy="125.0" r="3.7"/><circle cx="599.9" cy="124.8" r="3.7"/><circle cx="603.3" cy="122.1" r="3.7"/><circle cx="579.8" cy="126.3" r="3.7"/><circle cx="583.0" cy="127.1" r="3.7"/><circle cx="589.3" cy="126.3" r="3.7"/><circle cx="593.8" cy="128.4" r="3.7"/><circle cx="598.6" cy="127.0" r="3.7"/><circle cx="600.6" cy="126.6" r="3.7"/><circle cx="582.4" cy="130.7" r="3.7"/><circle cx="585.1" cy="131.1" r="3.7"/><circle cx="590.4" cy="130.0" r="3.7"/><circle cx="595.9" cy="131.4" r="3.7"/><circle cx="600.2" cy="130.5" r="3.7"/><circle cx="585.1" cy="135.2" r="3.7"/><circle cx="589.1" cy="133.9" r="3.7"/><circle cx="592.5" cy="133.8" r="3.7"/><circle cx="598.3" cy="135.1" r="3.7"/><circle cx="600.2" cy="133.9" r="3.7"/><circle cx="584.7" cy="138.3" r="3.7"/><circle cx="589.5" cy="139.1" r="3.7"/><circle cx="593.2" cy="137.6" r="3.7"/><circle cx="599.2" cy="138.1" r="3.7"/><circle cx="589.4" cy="142.3" r="3.7"/><circle cx="591.4" cy="143.7" r="3.7"/></g>
<g fill="#35b779"><circle cx="651.7" cy="132.1" r="3.7"/><circle cx="646.1" cy="136.5" r="3.7"/><circle cx="644.1" cy="126.1" r="3.7"/><circle cx="636.5" cy="126.7" r="3.7"/><circle cx="633.1" cy="137.1" r="3.7"/><circle cx="648.1" cy="115.0" r="3.7"/><circle cx="642.5" cy="118.0" r="3.7"/><circle cx="643.1" cy="111.0" r="3.7"/><circle cx="592.2" cy="38.4" r="3.7"/><circle cx="624.5" cy="60.1" r="3.7"/><circle cx="618.8" cy="72.1" r="3.7"/><circle cx="602.0" cy="77.7" r="3.7"/><circle cx="611.0" cy="85.2" r="3.7"/><circle cx="621.0" cy="84.2" r="3.7"/><circle cx="625.1" cy="89.2" r="3.7"/><circle cx="635.7" cy="88.2" r="3.7"/><circle cx="640.5" cy="85.2" r="3.7"/><circle cx="637.1" cy="100.2" r="3.7"/><circle cx="647.1" cy="104.2" r="3.7"/><circle cx="610.7" cy="85.9" r="3.7"/><circle cx="614.5" cy="89.7" r="3.7"/><circle cx="620.8" cy="85.3" r="3.7"/><circle cx="624.5" cy="89.0" r="3.7"/><circle cx="601.3" cy="94.7" r="3.7"/><circle cx="606.9" cy="95.9" r="3.7"/><circle cx="610.1" cy="100.3" r="3.7"/><circle cx="615.1" cy="93.4" r="3.7"/><circle cx="620.1" cy="94.1" r="3.7"/><circle cx="639.8" cy="99.2" r="3.7"/><circle cx="627.7" cy="106.6" r="3.7"/><circle cx="632.1" cy="108.5" r="3.7"/><circle cx="632.7" cy="112.9" r="3.7"/><circle cx="642.1" cy="110.4" r="3.7"/><circle cx="643.4" cy="117.3" r="3.7"/><circle cx="636.5" cy="126.1" r="3.7"/><circle cx="603.8" cy="100.0" r="3.7"/><circle cx="616.8" cy="98.0" r="3.7"/><circle cx="622.8" cy="99.0" r="3.7"/><circle cx="627.7" cy="106.0" r="3.7"/><circle cx="632.1" cy="108.5" r="3.7"/><circle cx="631.5" cy="112.3" r="3.7"/><circle cx="615.1" cy="107.3" r="3.7"/><circle cx="616.4" cy="120.5" r="3.7"/><circle cx="626.5" cy="120.5" r="3.7"/><circle cx="622.1" cy="124.2" r="3.7"/><circle cx="617.0" cy="127.4" r="3.7"/><circle cx="627.7" cy="126.8" r="3.7"/><circle cx="647.2" cy="114.8" r="3.7"/><circle cx="651.6" cy="130.5" r="3.7"/><circle cx="622.8" cy="112.0" r="3.7"/><circle cx="645.3" cy="136.9" r="3.7"/><circle cx="633.3" cy="136.9" r="3.7"/><circle cx="630.2" cy="133.8" r="3.7"/><circle cx="639.0" cy="126.9" r="3.7"/><circle cx="625.2" cy="128.8" r="3.7"/><circle cx="631.4" cy="130.0" r="3.7"/><circle cx="605.7" cy="102.6" r="3.7"/><circle cx="611.0" cy="104.1" r="3.7"/><circle cx="609.0" cy="108.6" r="3.7"/><circle cx="613.4" cy="108.4" r="3.7"/><circle cx="616.9" cy="108.4" r="3.7"/><circle cx="609.4" cy="110.5" r="3.7"/><circle cx="613.9" cy="111.9" r="3.7"/><circle cx="618.6" cy="113.2" r="3.7"/><circle cx="608.5" cy="114.7" r="3.7"/><circle cx="611.8" cy="116.4" r="3.7"/><circle cx="618.2" cy="117.2" r="3.7"/><circle cx="609.6" cy="120.3" r="3.7"/><circle cx="615.5" cy="119.5" r="3.7"/><circle cx="609.5" cy="122.8" r="3.7"/><circle cx="613.6" cy="122.4" r="3.7"/><circle cx="617.9" cy="124.6" r="3.7"/><circle cx="611.2" cy="127.3" r="3.7"/><circle cx="614.4" cy="128.5" r="3.7"/><circle cx="615.8" cy="129.9" r="3.7"/></g>
<g fill="#b5de2b"><circle cx="594.2" cy="182.0" r="3.7"/><circle cx="641.7" cy="149.1" r="3.7"/><circle cx="653.1" cy="147.1" r="3.7"/><circle cx="659.8" cy="151.5" r="3.7"/><circle cx="649.1" cy="163.2" r="3.7"/><circle cx="657.2" cy="175.6" r="3.7"/><circle cx="591.8" cy="150.1" r="3.7"/><circle cx="595.0" cy="153.3" r="3.7"/><circle cx="586.8" cy="158.9" r="3.7"/><circle cx="583.7" cy="162.1" r="3.7"/><circle cx="587.4" cy="170.3" r="3.7"/><circle cx="595.0" cy="161.5" r="3.7"/><circle cx="595.6" cy="166.5" r="3.7"/><circle cx="602.5" cy="161.5" r="3.7"/><circle cx="605.0" cy="154.5" r="3.7"/><circle cx="607.6" cy="169.0" r="3.7"/><circle cx="615.1" cy="168.4" r="3.7"/><circle cx="618.9" cy="156.4" r="3.7"/><circle cx="623.9" cy="161.5" r="3.7"/><circle cx="626.4" cy="164.6" r="3.7"/><circle cx="623.9" cy="167.8" r="3.7"/><circle cx="634.0" cy="168.4" r="3.7"/><circle cx="641.5" cy="149.5" r="3.7"/><circle cx="649.0" cy="162.7" r="3.7"/><circle cx="627.7" cy="147.0" r="3.7"/><circle cx="623.3" cy="148.3" r="3.7"/><circle cx="623.3" cy="141.3" r="3.7"/><circle cx="620.1" cy="138.2" r="3.7"/><circle cx="586.2" cy="158.8" r="3.7"/><circle cx="587.4" cy="172.6" r="3.7"/><circle cx="593.7" cy="182.0" r="3.7"/><circle cx="594.3" cy="160.0" r="3.7"/><circle cx="595.0" cy="165.1" r="3.7"/><circle cx="599.4" cy="169.5" r="3.7"/><circle cx="601.9" cy="176.4" r="3.7"/><circle cx="603.8" cy="161.3" r="3.7"/><circle cx="607.6" cy="168.8" r="3.7"/><circle cx="608.2" cy="157.5" r="3.7"/><circle cx="615.1" cy="158.8" r="3.7"/><circle cx="614.5" cy="169.5" r="3.7"/><circle cx="613.8" cy="173.2" r="3.7"/><circle cx="617.6" cy="174.5" r="3.7"/><circle cx="620.1" cy="160.0" r="3.7"/><circle cx="623.9" cy="166.9" r="3.7"/><circle cx="634.0" cy="172.0" r="3.7"/><circle cx="628.9" cy="178.3" r="3.7"/><circle cx="632.7" cy="179.5" r="3.7"/><circle cx="628.9" cy="183.9" r="3.7"/><circle cx="622.6" cy="184.5" r="3.7"/><circle cx="639.0" cy="185.8" r="3.7"/><circle cx="635.6" cy="194.6" r="3.7"/><circle cx="613.4" cy="132.4" r="3.7"/><circle cx="609.5" cy="135.0" r="3.7"/><circle cx="615.0" cy="135.5" r="3.7"/><circle cx="619.9" cy="134.8" r="3.7"/><circle cx="604.4" cy="140.1" r="3.7"/><circle cx="608.6" cy="139.8" r="3.7"/><circle cx="612.5" cy="137.7" r="3.7"/><circle cx="617.1" cy="138.7" r="3.7"/><circle cx="600.1" cy="142.8" r="3.7"/><circle cx="604.5" cy="142.3" r="3.7"/><circle cx="611.2" cy="141.7" r="3.7"/><circle cx="614.4" cy="144.6" r="3.7"/><circle cx="604.7" cy="145.7" r="3.7"/><circle cx="608.3" cy="148.2" r="3.7"/><circle cx="614.2" cy="146.1" r="3.7"/><circle cx="616.5" cy="148.3" r="3.7"/><circle cx="597.6" cy="151.8" r="3.7"/><circle cx="602.8" cy="150.1" r="3.7"/><circle cx="618.5" cy="151.0" r="3.7"/><circle cx="599.8" cy="154.9" r="3.7"/><circle cx="604.0" cy="156.0" r="3.7"/><circle cx="617.1" cy="153.5" r="3.7"/><circle cx="601.9" cy="158.0" r="3.7"/></g>
<g fill="#fde725"><circle cx="511.0" cy="130.7" r="3.7"/><circle cx="508.7" cy="137.6" r="3.7"/><circle cx="517.6" cy="136.9" r="3.7"/><circle cx="503.7" cy="143.9" r="3.7"/><circle cx="510.6" cy="145.1" r="3.7"/><circle cx="511.3" cy="148.3" r="3.7"/><circle cx="520.7" cy="142.6" r="3.7"/><circle cx="527.0" cy="140.1" r="3.7"/><circle cx="530.8" cy="142.6" r="3.7"/><circle cx="522.6" cy="151.4" r="3.7"/><circle cx="501.8" cy="151.4" r="3.7"/><circle cx="532.6" cy="149.5" r="3.7"/><circle cx="532.0" cy="153.9" r="3.7"/><circle cx="485.5" cy="157.1" r="3.7"/><circle cx="493.7" cy="157.7" r="3.7"/><circle cx="505.0" cy="156.4" r="3.7"/><circle cx="513.8" cy="155.2" r="3.7"/><circle cx="516.3" cy="157.7" r="3.7"/><circle cx="531.4" cy="161.5" r="3.7"/><circle cx="497.4" cy="164.0" r="3.7"/><circle cx="492.4" cy="167.8" r="3.7"/><circle cx="505.8" cy="149.0" r="3.7"/><circle cx="507.8" cy="153.0" r="3.7"/><circle cx="501.8" cy="158.0" r="3.7"/><circle cx="498.8" cy="161.0" r="3.7"/><circle cx="508.5" cy="160.2" r="3.7"/><circle cx="511.0" cy="160.6" r="3.7"/><circle cx="518.0" cy="159.9" r="3.7"/><circle cx="529.8" cy="160.8" r="3.7"/><circle cx="501.8" cy="164.2" r="3.7"/><circle cx="506.1" cy="162.8" r="3.7"/><circle cx="509.1" cy="163.9" r="3.7"/><circle cx="513.8" cy="162.4" r="3.7"/><circle cx="520.3" cy="163.6" r="3.7"/><circle cx="523.3" cy="163.3" r="3.7"/><circle cx="527.0" cy="163.5" r="3.7"/><circle cx="494.6" cy="167.4" r="3.7"/><circle cx="498.5" cy="167.5" r="3.7"/><circle cx="502.6" cy="167.9" r="3.7"/><circle cx="509.1" cy="166.5" r="3.7"/><circle cx="511.5" cy="166.3" r="3.7"/><circle cx="517.3" cy="168.2" r="3.7"/><circle cx="520.1" cy="167.5" r="3.7"/><circle cx="526.0" cy="168.3" r="3.7"/><circle cx="529.0" cy="169.0" r="3.7"/><circle cx="500.5" cy="171.8" r="3.7"/><circle cx="505.6" cy="172.7" r="3.7"/><circle cx="510.2" cy="170.6" r="3.7"/><circle cx="514.6" cy="171.6" r="3.7"/><circle cx="519.0" cy="172.3" r="3.7"/><circle cx="522.5" cy="170.7" r="3.7"/><circle cx="526.6" cy="170.9" r="3.7"/><circle cx="501.6" cy="174.7" r="3.7"/><circle cx="508.0" cy="174.5" r="3.7"/><circle cx="513.2" cy="174.7" r="3.7"/><circle cx="517.3" cy="176.1" r="3.7"/><circle cx="522.0" cy="174.1" r="3.7"/><circle cx="524.7" cy="176.2" r="3.7"/><circle cx="528.7" cy="174.1" r="3.7"/><circle cx="505.1" cy="178.6" r="3.7"/><circle cx="509.6" cy="179.3" r="3.7"/><circle cx="514.3" cy="179.6" r="3.7"/><circle cx="517.3" cy="178.4" r="3.7"/><circle cx="523.1" cy="180.2" r="3.7"/><circle cx="508.1" cy="182.7" r="3.7"/><circle cx="511.1" cy="183.0" r="3.7"/><circle cx="517.9" cy="183.6" r="3.7"/><circle cx="522.4" cy="184.1" r="3.7"/><circle cx="525.6" cy="183.4" r="3.7"/><circle cx="510.9" cy="186.4" r="3.7"/><circle cx="515.0" cy="188.3" r="3.7"/><circle cx="517.3" cy="186.1" r="3.7"/><circle cx="523.1" cy="186.4" r="3.7"/></g>
<g fill="#26828e"><circle cx="551.6" cy="212.1" r="3.7"/><circle cx="549.0" cy="204.1" r="3.7"/><circle cx="552.0" cy="200.1" r="3.7"/><circle cx="544.0" cy="200.1" r="3.7"/><circle cx="569.1" cy="194.0" r="3.7"/><circle cx="572.1" cy="186.0" r="3.7"/><circle cx="555.1" cy="184.0" r="3.7"/><circle cx="552.5" cy="134.1" r="3.7"/><circle cx="555.1" cy="162.6" r="3.7"/><circle cx="546.1" cy="170.2" r="3.7"/><circle cx="555.4" cy="162.4" r="3.7"/><circle cx="571.9" cy="186.1" r="3.7"/><circle cx="569.3" cy="194.1" r="3.7"/><circle cx="570.9" cy="176.0" r="3.7"/><circle cx="550.8" cy="175.0" r="3.7"/><circle cx="556.9" cy="175.0" r="3.7"/><circle cx="547.8" cy="179.0" r="3.7"/><circle cx="544.8" cy="186.0" r="3.7"/><circle cx="552.8" cy="185.0" r="3.7"/><circle cx="555.8" cy="184.0" r="3.7"/><circle cx="542.8" cy="200.0" r="3.7"/><circle cx="548.8" cy="203.0" r="3.7"/><circle cx="551.8" cy="201.0" r="3.7"/><circle cx="551.8" cy="212.6" r="3.7"/><circle cx="537.0" cy="145.1" r="3.7"/><circle cx="533.9" cy="158.3" r="3.7"/><circle cx="536.4" cy="162.7" r="3.7"/><circle cx="545.2" cy="169.0" r="3.7"/><circle cx="552.8" cy="166.9" r="3.7"/><circle cx="556.5" cy="175.1" r="3.7"/><circle cx="549.0" cy="178.8" r="3.7"/><circle cx="555.3" cy="185.1" r="3.7"/><circle cx="545.2" cy="186.4" r="3.7"/><circle cx="544.0" cy="199.6" r="3.7"/><circle cx="551.5" cy="200.2" r="3.7"/><circle cx="549.6" cy="205.2" r="3.7"/><circle cx="552.1" cy="210.9" r="3.7"/><circle cx="535.4" cy="158.9" r="3.7"/><circle cx="542.9" cy="164.5" r="3.7"/><circle cx="546.1" cy="168.3" r="3.7"/><circle cx="545.4" cy="179.0" r="3.7"/><circle cx="544.2" cy="184.6" r="3.7"/><circle cx="550.5" cy="186.5" r="3.7"/><circle cx="541.3" cy="176.0" r="3.7"/><circle cx="541.8" cy="192.0" r="3.7"/><circle cx="548.6" cy="204.5" r="3.7"/><circle cx="551.5" cy="212.5" r="3.7"/><circle cx="549.0" cy="205.6" r="3.7"/><circle cx="534.7" cy="161.4" r="3.7"/><circle cx="533.4" cy="164.6" r="3.7"/><circle cx="535.4" cy="166.6" r="3.7"/><circle cx="530.7" cy="172.1" r="3.7"/><circle cx="536.1" cy="170.7" r="3.7"/><circle cx="534.1" cy="175.9" r="3.7"/><circle cx="537.6" cy="174.2" r="3.7"/><circle cx="528.7" cy="180.4" r="3.7"/><circle cx="532.3" cy="181.0" r="3.7"/><circle cx="536.3" cy="179.4" r="3.7"/><circle cx="529.2" cy="181.8" r="3.7"/><circle cx="534.3" cy="183.6" r="3.7"/><circle cx="529.0" cy="188.0" r="3.7"/><circle cx="533.0" cy="188.2" r="3.7"/><circle cx="536.3" cy="186.5" r="3.7"/><circle cx="530.2" cy="190.6" r="3.7"/><circle cx="533.5" cy="189.9" r="3.7"/><circle cx="538.1" cy="191.0" r="3.7"/><circle cx="537.9" cy="195.6" r="3.7"/><circle cx="578.1" cy="189.6" r="3.7"/><circle cx="547.1" cy="135.1" r="3.7"/><circle cx="545.1" cy="139.1" r="3.7"/><circle cx="558.2" cy="136.5" r="3.7"/><circle cx="542.7" cy="165.2" r="3.7"/><circle cx="565.6" cy="152.7" r="3.7"/><circle cx="566.1" cy="152.7" r="3.7"/><circle cx="573.0" cy="158.9" r="3.7"/><circle cx="569.8" cy="162.7" r="3.7"/><circle cx="575.5" cy="167.1" r="3.7"/><circle cx="570.3" cy="167.1" r="3.7"/><circle cx="576.1" cy="166.9" r="3.7"/><circle cx="569.2" cy="176.4" r="3.7"/><circle cx="542.8" cy="165.0" r="3.7"/></g>
<g fill="#3e4989"><circle cx="480.1" cy="204.1" r="3.7"/><circle cx="486.2" cy="219.1" r="3.7"/><circle cx="484.8" cy="220.1" r="3.7"/><circle cx="461.5" cy="165.2" r="3.7"/><circle cx="475.3" cy="175.2" r="3.7"/><circle cx="480.5" cy="204.6" r="3.7"/><circle cx="465.0" cy="206.3" r="3.7"/><circle cx="460.5" cy="191.4" r="3.7"/><circle cx="469.1" cy="199.1" r="3.7"/><circle cx="476.5" cy="189.4" r="3.7"/><circle cx="478.1" cy="198.1" r="3.7"/><circle cx="483.1" cy="200.1" r="3.7"/><circle cx="476.1" cy="210.1" r="3.7"/><circle cx="473.1" cy="216.1" r="3.7"/><circle cx="480.1" cy="223.1" r="3.7"/><circle cx="492.2" cy="233.2" r="3.7"/><circle cx="470.8" cy="199.1" r="3.7"/><circle cx="487.4" cy="169.6" r="3.7"/><circle cx="481.7" cy="175.7" r="3.7"/><circle cx="487.4" cy="171.3" r="3.7"/><circle cx="476.7" cy="189.5" r="3.7"/><circle cx="477.9" cy="198.3" r="3.7"/><circle cx="482.3" cy="200.8" r="3.7"/><circle cx="476.7" cy="209.0" r="3.7"/><circle cx="489.9" cy="207.8" r="3.7"/><circle cx="477.3" cy="209.4" r="3.7"/><circle cx="488.0" cy="220.7" r="3.7"/><circle cx="491.8" cy="224.5" r="3.7"/><circle cx="479.8" cy="223.9" r="3.7"/><circle cx="492.4" cy="233.3" r="3.7"/><circle cx="496.8" cy="218.8" r="3.7"/><circle cx="486.4" cy="173.0" r="3.7"/><circle cx="492.1" cy="171.2" r="3.7"/><circle cx="495.5" cy="173.0" r="3.7"/><circle cx="488.6" cy="174.9" r="3.7"/><circle cx="499.7" cy="177.1" r="3.7"/><circle cx="487.8" cy="178.5" r="3.7"/><circle cx="501.2" cy="180.9" r="3.7"/><circle cx="485.8" cy="184.6" r="3.7"/><circle cx="489.3" cy="184.5" r="3.7"/><circle cx="493.9" cy="184.1" r="3.7"/><circle cx="497.0" cy="181.9" r="3.7"/><circle cx="504.5" cy="182.1" r="3.7"/><circle cx="483.9" cy="188.7" r="3.7"/><circle cx="488.7" cy="188.3" r="3.7"/><circle cx="490.6" cy="186.8" r="3.7"/><circle cx="495.4" cy="188.5" r="3.7"/><circle cx="501.7" cy="186.8" r="3.7"/><circle cx="505.5" cy="188.3" r="3.7"/><circle cx="485.5" cy="191.0" r="3.7"/><circle cx="490.9" cy="191.7" r="3.7"/><circle cx="493.7" cy="192.4" r="3.7"/><circle cx="498.2" cy="190.2" r="3.7"/><circle cx="504.0" cy="191.1" r="3.7"/><circle cx="506.8" cy="191.9" r="3.7"/><circle cx="513.6" cy="190.4" r="3.7"/><circle cx="488.0" cy="193.9" r="3.7"/><circle cx="490.8" cy="195.8" r="3.7"/><circle cx="497.5" cy="196.7" r="3.7"/><circle cx="501.3" cy="195.1" r="3.7"/><circle cx="504.0" cy="195.3" r="3.7"/><circle cx="508.8" cy="195.2" r="3.7"/><circle cx="489.1" cy="198.0" r="3.7"/><circle cx="495.3" cy="200.1" r="3.7"/><circle cx="498.6" cy="198.9" r="3.7"/><circle cx="503.0" cy="198.3" r="3.7"/><circle cx="507.2" cy="198.9" r="3.7"/><circle cx="487.3" cy="202.6" r="3.7"/><circle cx="491.3" cy="204.4" r="3.7"/><circle cx="496.9" cy="203.1" r="3.7"/><circle cx="499.3" cy="202.2" r="3.7"/><circle cx="506.7" cy="203.2" r="3.7"/><circle cx="489.0" cy="206.0" r="3.7"/><circle cx="493.3" cy="205.7" r="3.7"/><circle cx="499.2" cy="207.4" r="3.7"/><circle cx="502.4" cy="208.1" r="3.7"/><circle cx="491.6" cy="211.2" r="3.7"/><circle cx="497.0" cy="209.5" r="3.7"/><circle cx="502.1" cy="211.8" r="3.7"/><circle cx="493.2" cy="214.1" r="3.7"/><circle cx="499.8" cy="213.2" r="3.7"/><circle cx="501.7" cy="214.2" r="3.7"/></g>
<g fill="#6ece58"><circle cx="498.8" cy="252.2" r="3.7"/><circle cx="511.9" cy="249.2" r="3.7"/><circle cx="516.9" cy="247.2" r="3.7"/><circle cx="503.3" cy="243.2" r="3.7"/><circle cx="521.0" cy="237.2" r="3.7"/><circle cx="532.6" cy="238.2" r="3.7"/><circle cx="532.6" cy="241.2" r="3.7"/><circle cx="549.6" cy="251.2" r="3.7"/><circle cx="553.7" cy="222.1" r="3.7"/><circle cx="553.2" cy="222.6" r="3.7"/><circle cx="521.6" cy="267.1" r="3.7"/><circle cx="502.5" cy="218.8" r="3.7"/><circle cx="510.6" cy="217.6" r="3.7"/><circle cx="508.7" cy="224.5" r="3.7"/><circle cx="498.7" cy="229.5" r="3.7"/><circle cx="503.7" cy="228.9" r="3.7"/><circle cx="499.9" cy="235.2" r="3.7"/><circle cx="503.7" cy="237.7" r="3.7"/><circle cx="503.1" cy="242.7" r="3.7"/><circle cx="507.5" cy="238.3" r="3.7"/><circle cx="513.2" cy="233.3" r="3.7"/><circle cx="520.7" cy="237.1" r="3.7"/><circle cx="512.5" cy="248.4" r="3.7"/><circle cx="498.1" cy="250.9" r="3.7"/><circle cx="550.2" cy="250.9" r="3.7"/><circle cx="533.9" cy="219.5" r="3.7"/><circle cx="540.2" cy="214.4" r="3.7"/><circle cx="544.6" cy="220.1" r="3.7"/><circle cx="545.8" cy="226.4" r="3.7"/><circle cx="540.8" cy="230.1" r="3.7"/><circle cx="533.9" cy="229.5" r="3.7"/><circle cx="532.0" cy="224.5" r="3.7"/><circle cx="553.4" cy="222.0" r="3.7"/><circle cx="522.6" cy="221.3" r="3.7"/><circle cx="516.3" cy="217.6" r="3.7"/><circle cx="514.8" cy="222.0" r="3.7"/><circle cx="518.8" cy="226.0" r="3.7"/><circle cx="510.8" cy="229.0" r="3.7"/><circle cx="506.8" cy="232.0" r="3.7"/><circle cx="517.5" cy="192.1" r="3.7"/><circle cx="519.8" cy="192.3" r="3.7"/><circle cx="525.4" cy="190.0" r="3.7"/><circle cx="514.6" cy="196.2" r="3.7"/><circle cx="518.2" cy="196.7" r="3.7"/><circle cx="524.9" cy="196.2" r="3.7"/><circle cx="510.5" cy="200.3" r="3.7"/><circle cx="515.0" cy="198.7" r="3.7"/><circle cx="519.8" cy="198.1" r="3.7"/><circle cx="533.8" cy="200.3" r="3.7"/><circle cx="509.3" cy="201.4" r="3.7"/><circle cx="513.5" cy="202.2" r="3.7"/><circle cx="517.7" cy="202.5" r="3.7"/><circle cx="522.3" cy="201.6" r="3.7"/><circle cx="526.5" cy="203.0" r="3.7"/><circle cx="530.9" cy="204.4" r="3.7"/><circle cx="535.9" cy="202.9" r="3.7"/><circle cx="507.2" cy="207.3" r="3.7"/><circle cx="512.1" cy="206.3" r="3.7"/><circle cx="517.9" cy="208.0" r="3.7"/><circle cx="522.1" cy="208.3" r="3.7"/><circle cx="524.0" cy="206.9" r="3.7"/><circle cx="531.5" cy="205.7" r="3.7"/><circle cx="533.7" cy="206.9" r="3.7"/><circle cx="504.9" cy="209.8" r="3.7"/><circle cx="508.4" cy="210.2" r="3.7"/><circle cx="515.0" cy="211.8" r="3.7"/><circle cx="518.2" cy="209.9" r="3.7"/><circle cx="522.7" cy="212.3" r="3.7"/><circle cx="526.5" cy="209.7" r="3.7"/><circle cx="532.9" cy="209.7" r="3.7"/><circle cx="506.7" cy="214.9" r="3.7"/><circle cx="512.2" cy="214.7" r="3.7"/><circle cx="515.9" cy="214.8" r="3.7"/><circle cx="522.0" cy="215.7" r="3.7"/><circle cx="525.7" cy="215.7" r="3.7"/><circle cx="528.6" cy="213.6" r="3.7"/></g>
<g fill="#31688e"><circle cx="383.2" cy="281.1" r="3.7"/><circle cx="384.2" cy="307.6" r="3.7"/><circle cx="392.9" cy="264.6" r="3.7"/><circle cx="395.9" cy="258.0" r="3.7"/><circle cx="416.9" cy="269.0" r="3.7"/><circle cx="422.6" cy="263.0" r="3.7"/><circle cx="411.9" cy="257.4" r="3.7"/><circle cx="431.2" cy="195.4" r="3.7"/><circle cx="412.4" cy="209.1" r="3.7"/><circle cx="403.4" cy="215.1" r="3.7"/><circle cx="400.2" cy="221.4" r="3.7"/><circle cx="431.0" cy="208.2" r="3.7"/><circle cx="430.4" cy="212.6" r="3.7"/><circle cx="424.7" cy="212.6" r="3.7"/><circle cx="417.8" cy="216.3" r="3.7"/><circle cx="421.0" cy="218.9" r="3.7"/><circle cx="416.6" cy="221.4" r="3.7"/><circle cx="434.2" cy="218.2" r="3.7"/><circle cx="428.5" cy="222.6" r="3.7"/><circle cx="432.3" cy="224.5" r="3.7"/><circle cx="407.8" cy="228.3" r="3.7"/><circle cx="410.3" cy="231.4" r="3.7"/><circle cx="403.4" cy="238.4" r="3.7"/><circle cx="407.1" cy="241.5" r="3.7"/><circle cx="398.3" cy="244.6" r="3.7"/><circle cx="397.7" cy="245.7" r="3.7"/><circle cx="399.0" cy="254.5" r="3.7"/><circle cx="394.6" cy="257.0" r="3.7"/><circle cx="397.1" cy="259.5" r="3.7"/><circle cx="392.7" cy="265.1" r="3.7"/><circle cx="407.1" cy="245.0" r="3.7"/><circle cx="409.0" cy="249.4" r="3.7"/><circle cx="409.7" cy="255.1" r="3.7"/><circle cx="411.5" cy="258.9" r="3.7"/><circle cx="416.6" cy="268.9" r="3.7"/><circle cx="422.9" cy="262.6" r="3.7"/><circle cx="411.5" cy="277.7" r="3.7"/><circle cx="421.6" cy="253.8" r="3.7"/><circle cx="427.3" cy="251.3" r="3.7"/><circle cx="421.0" cy="243.8" r="3.7"/><circle cx="425.4" cy="245.7" r="3.7"/><circle cx="425.2" cy="225.3" r="3.7"/><circle cx="429.6" cy="227.0" r="3.7"/><circle cx="432.0" cy="226.7" r="3.7"/><circle cx="413.6" cy="230.5" r="3.7"/><circle cx="416.5" cy="229.6" r="3.7"/><circle cx="431.8" cy="229.9" r="3.7"/><circle cx="410.3" cy="235.0" r="3.7"/><circle cx="415.3" cy="235.2" r="3.7"/><circle cx="420.6" cy="234.1" r="3.7"/><circle cx="423.3" cy="235.2" r="3.7"/><circle cx="428.9" cy="234.0" r="3.7"/><circle cx="433.3" cy="232.9" r="3.7"/><circle cx="410.2" cy="238.3" r="3.7"/><circle cx="411.9" cy="238.5" r="3.7"/><circle cx="418.6" cy="239.0" r="3.7"/><circle cx="423.0" cy="236.5" r="3.7"/><circle cx="425.3" cy="236.1" r="3.7"/><circle cx="429.8" cy="236.8" r="3.7"/><circle cx="411.2" cy="240.4" r="3.7"/><circle cx="414.1" cy="240.4" r="3.7"/><circle cx="418.6" cy="240.3" r="3.7"/><circle cx="423.7" cy="242.3" r="3.7"/><circle cx="429.2" cy="240.0" r="3.7"/><circle cx="418.1" cy="245.1" r="3.7"/><circle cx="422.5" cy="246.3" r="3.7"/><circle cx="427.3" cy="244.7" r="3.7"/><circle cx="421.5" cy="249.6" r="3.7"/><circle cx="425.9" cy="249.9" r="3.7"/><circle cx="428.7" cy="249.4" r="3.7"/><circle cx="433.9" cy="249.6" r="3.7"/><circle cx="427.8" cy="252.6" r="3.7"/><circle cx="431.3" cy="253.6" r="3.7"/><circle cx="434.2" cy="253.6" r="3.7"/><circle cx="429.9" cy="258.4" r="3.7"/></g>
<g fill="#482878"><circle cx="484.1" cy="255.0" r="3.7"/><circle cx="472.1" cy="263.0" r="3.7"/><circle cx="464.3" cy="206.4" r="3.7"/><circle cx="466.5" cy="216.1" r="3.7"/><circle cx="478.1" cy="237.2" r="3.7"/><circle cx="470.5" cy="239.6" r="3.7"/><circle cx="491.2" cy="244.6" r="3.7"/><circle cx="478.1" cy="251.2" r="3.7"/><circle cx="470.8" cy="240.2" r="3.7"/><circle cx="478.8" cy="251.2" r="3.7"/><circle cx="478.3" cy="236.4" r="3.7"/><circle cx="447.4" cy="218.9" r="3.7"/><circle cx="443.0" cy="226.4" r="3.7"/><circle cx="456.8" cy="214.0" r="3.7"/><circle cx="466.2" cy="215.7" r="3.7"/><circle cx="452.4" cy="224.5" r="3.7"/><circle cx="457.4" cy="223.3" r="3.7"/><circle cx="461.8" cy="222.6" r="3.7"/><circle cx="465.0" cy="225.8" r="3.7"/><circle cx="456.2" cy="232.7" r="3.7"/><circle cx="461.2" cy="237.7" r="3.7"/><circle cx="470.6" cy="238.4" r="3.7"/><circle cx="475.7" cy="236.5" r="3.7"/><circle cx="473.2" cy="262.6" r="3.7"/><circle cx="476.3" cy="253.8" r="3.7"/><circle cx="471.3" cy="243.8" r="3.7"/><circle cx="484.5" cy="253.2" r="3.7"/><circle cx="437.2" cy="230.1" r="3.7"/><circle cx="441.6" cy="228.7" r="3.7"/><circle cx="443.6" cy="230.8" r="3.7"/><circle cx="439.3" cy="234.0" r="3.7"/><circle cx="441.0" cy="234.1" r="3.7"/><circle cx="446.5" cy="233.8" r="3.7"/><circle cx="452.8" cy="233.3" r="3.7"/><circle cx="457.4" cy="234.1" r="3.7"/><circle cx="459.0" cy="235.1" r="3.7"/><circle cx="437.0" cy="237.8" r="3.7"/><circle cx="440.5" cy="238.8" r="3.7"/><circle cx="443.6" cy="237.0" r="3.7"/><circle cx="449.6" cy="239.2" r="3.7"/><circle cx="454.0" cy="236.1" r="3.7"/><circle cx="459.3" cy="236.8" r="3.7"/><circle cx="441.8" cy="242.4" r="3.7"/><circle cx="446.1" cy="241.8" r="3.7"/><circle cx="453.1" cy="242.7" r="3.7"/><circle cx="455.2" cy="241.6" r="3.7"/><circle cx="460.9" cy="242.6" r="3.7"/><circle cx="464.0" cy="240.0" r="3.7"/><circle cx="441.1" cy="244.1" r="3.7"/><circle cx="444.0" cy="246.5" r="3.7"/><circle cx="448.3" cy="245.9" r="3.7"/><circle cx="453.9" cy="246.8" r="3.7"/><circle cx="457.5" cy="244.1" r="3.7"/><circle cx="463.6" cy="246.4" r="3.7"/><circle cx="468.6" cy="246.9" r="3.7"/><circle cx="439.4" cy="250.7" r="3.7"/><circle cx="442.2" cy="250.9" r="3.7"/><circle cx="446.0" cy="248.2" r="3.7"/><circle cx="450.4" cy="249.4" r="3.7"/><circle cx="454.5" cy="250.8" r="3.7"/><circle cx="461.6" cy="247.9" r="3.7"/><circle cx="464.0" cy="248.9" r="3.7"/><circle cx="468.4" cy="250.4" r="3.7"/><circle cx="440.1" cy="254.3" r="3.7"/><circle cx="444.2" cy="254.6" r="3.7"/><circle cx="449.5" cy="252.3" r="3.7"/><circle cx="454.7" cy="253.7" r="3.7"/><circle cx="456.9" cy="253.1" r="3.7"/><circle cx="463.4" cy="254.7" r="3.7"/><circle cx="443.1" cy="257.1" r="3.7"/><circle cx="446.7" cy="256.9" r="3.7"/><circle cx="451.2" cy="256.7" r="3.7"/><circle cx="456.4" cy="257.0" r="3.7"/><circle cx="462.1" cy="257.8" r="3.7"/><circle cx="464.1" cy="257.0" r="3.7"/><circle cx="450.8" cy="260.1" r="3.7"/><circle cx="458.9" cy="261.4" r="3.7"/><circle cx="461.7" cy="261.0" r="3.7"/><circle cx="466.8" cy="260.3" r="3.7"/><circle cx="464.2" cy="265.1" r="3.7"/><circle cx="456.5" cy="215.7" r="3.7"/><circle cx="460.5" cy="202.7" r="3.7"/><circle cx="488.2" cy="249.2" r="3.7"/><circle cx="488.0" cy="249.0" r="3.7"/></g>
<g fill="#1f9e89"><circle cx="405.7" cy="304.1" r="3.7"/><circle cx="412.5" cy="278.7" r="3.7"/><circle cx="415.3" cy="280.1" r="3.7"/><circle cx="487.2" cy="276.1" r="3.7"/><circle cx="476.5" cy="270.4" r="3.7"/><circle cx="478.5" cy="289.5" r="3.7"/><circle cx="473.5" cy="284.5" r="3.7"/><circle cx="415.3" cy="280.2" r="3.7"/><circle cx="424.1" cy="272.1" r="3.7"/><circle cx="426.6" cy="276.5" r="3.7"/><circle cx="425.4" cy="282.8" r="3.7"/><circle cx="432.3" cy="281.5" r="3.7"/><circle cx="437.3" cy="283.4" r="3.7"/><circle cx="473.8" cy="284.0" r="3.7"/><circle cx="415.2" cy="281.1" r="3.7"/><circle cx="424.6" cy="284.3" r="3.7"/><circle cx="425.3" cy="289.3" r="3.7"/><circle cx="435.3" cy="289.9" r="3.7"/><circle cx="434.7" cy="293.7" r="3.7"/><circle cx="423.4" cy="297.5" r="3.7"/><circle cx="427.1" cy="297.5" r="3.7"/><circle cx="419.6" cy="305.4" r="3.7"/><circle cx="424.6" cy="309.4" r="3.7"/><circle cx="430.9" cy="315.1" r="3.7"/><circle cx="435.9" cy="305.0" r="3.7"/><circle cx="443.5" cy="312.0" r="3.7"/><circle cx="448.5" cy="307.5" r="3.7"/><circle cx="449.8" cy="301.3" r="3.7"/><circle cx="458.0" cy="304.4" r="3.7"/><circle cx="454.2" cy="297.5" r="3.7"/><circle cx="460.5" cy="298.1" r="3.7"/><circle cx="465.5" cy="292.5" r="3.7"/><circle cx="449.8" cy="291.2" r="3.7"/><circle cx="453.6" cy="286.8" r="3.7"/><circle cx="458.6" cy="285.5" r="3.7"/><circle cx="464.9" cy="283.0" r="3.7"/><circle cx="473.7" cy="284.3" r="3.7"/><circle cx="478.7" cy="289.3" r="3.7"/><circle cx="487.5" cy="278.0" r="3.7"/><circle cx="435.9" cy="281.8" r="3.7"/><circle cx="429.7" cy="280.5" r="3.7"/><circle cx="434.4" cy="257.9" r="3.7"/><circle cx="439.2" cy="256.7" r="3.7"/><circle cx="431.4" cy="262.0" r="3.7"/><circle cx="436.0" cy="261.0" r="3.7"/><circle cx="439.8" cy="259.8" r="3.7"/><circle cx="444.4" cy="259.8" r="3.7"/><circle cx="454.8" cy="262.3" r="3.7"/><circle cx="429.8" cy="264.1" r="3.7"/><circle cx="432.7" cy="266.2" r="3.7"/><circle cx="437.8" cy="265.4" r="3.7"/><circle cx="450.4" cy="265.5" r="3.7"/><circle cx="456.2" cy="265.6" r="3.7"/><circle cx="459.4" cy="265.9" r="3.7"/><circle cx="432.0" cy="269.3" r="3.7"/><circle cx="436.8" cy="267.5" r="3.7"/><circle cx="441.2" cy="269.7" r="3.7"/><circle cx="449.7" cy="268.5" r="3.7"/><circle cx="454.7" cy="268.8" r="3.7"/><circle cx="459.2" cy="270.5" r="3.7"/><circle cx="462.2" cy="267.8" r="3.7"/><circle cx="468.6" cy="269.1" r="3.7"/><circle cx="432.0" cy="272.5" r="3.7"/><circle cx="439.2" cy="273.5" r="3.7"/><circle cx="443.2" cy="271.9" r="3.7"/><circle cx="446.9" cy="273.2" r="3.7"/><circle cx="453.1" cy="271.9" r="3.7"/><circle cx="455.2" cy="272.1" r="3.7"/><circle cx="461.4" cy="272.8" r="3.7"/><circle cx="463.6" cy="272.9" r="3.7"/><circle cx="468.6" cy="273.9" r="3.7"/><circle cx="435.7" cy="278.2" r="3.7"/><circle cx="439.4" cy="276.1" r="3.7"/><circle cx="443.5" cy="276.6" r="3.7"/><circle cx="448.0" cy="277.2" r="3.7"/><circle cx="454.8" cy="277.4" r="3.7"/><circle cx="459.2" cy="276.3" r="3.7"/><circle cx="463.9" cy="276.6" r="3.7"/><circle cx="443.5" cy="280.4" r="3.7"/><circle cx="448.3" cy="279.2" r="3.7"/><circle cx="452.4" cy="279.5" r="3.7"/><circle cx="456.4" cy="279.2" r="3.7"/><circle cx="460.7" cy="279.1" r="3.7"/><circle cx="466.5" cy="282.0" r="3.7"/><circle cx="445.8" cy="284.0" r="3.7"/><circle cx="450.8" cy="283.9" r="3.7"/><circle cx="453.9" cy="284.0" r="3.7"/><circle cx="459.6" cy="284.2" r="3.7"/><circle cx="462.6" cy="284.7" r="3.7"/><circle cx="446.8" cy="287.7" r="3.7"/><circle cx="451.1" cy="289.9" r="3.7"/><circle cx="457.4" cy="289.7" r="3.7"/><circle cx="461.9" cy="287.7" r="3.7"/><circle cx="463.7" cy="287.7" r="3.7"/><circle cx="450.8" cy="293.8" r="3.7"/><circle cx="454.1" cy="291.0" r="3.7"/><circle cx="457.0" cy="291.1" r="3.7"/></g>
<polygon points="436.88,194.31 438.20,198.39 442.49,198.39 439.02,200.91 440.35,204.99 436.88,202.47 433.41,204.99 434.74,200.91 431.27,198.39 435.56,198.39" fill="#ff0000"/>
<polygon points="475.07,215.22 476.40,219.30 480.69,219.30 477.22,221.82 478.54,225.89 475.07,223.37 471.61,225.89 472.93,221.82 469.46,219.30 473.75,219.30" fill="#ff0000"/>
<polygon points="447.02,238.30 448.34,242.38 452.63,242.38 449.16,244.90 450.49,248.98 447.02,246.46 443.55,248.98 444.88,244.90 441.41,242.38 445.70,242.38" fill="#ff0000"/>
<polygon points="496.37,190.13 497.69,194.21 501.98,194.21 498.51,196.73 499.84,200.81 496.37,198.29 492.90,200.81 494.22,196.73 490.76,194.21 495.04,194.21" fill="#ff0000"/>
<polygon points="516.92,219.24 518.24,223.31 522.53,223.31 519.06,225.83 520.39,229.91 516.92,227.39 513.45,229.91 514.78,225.83 511.31,223.31 515.59,223.31" fill="#ff0000"/>
<polygon points="513.94,223.17 515.27,227.24 519.56,227.24 516.09,229.76 517.41,233.84 513.94,231.32 510.48,233.84 511.80,229.76 508.33,227.24 512.62,227.24" fill="#ff0000"/>
<polygon points="440.94,268.16 442.26,272.24 446.55,272.24 443.08,274.76 444.40,278.83 440.94,276.31 437.47,278.83 438.79,274.76 435.32,272.24 439.61,272.24" fill="#ff0000"/>
<polygon points="602.97,139.20 604.30,143.28 608.58,143.28 605.12,145.80 606.44,149.87 602.97,147.36 599.51,149.87 600.83,145.80 597.36,143.28 601.65,143.28" fill="#ff0000"/>
<polygon points="596.42,93.96 597.74,98.03 602.03,98.03 598.56,100.55 599.88,104.63 596.42,102.11 592.95,104.63 594.27,100.55 590.80,98.03 595.09,98.03" fill="#ff0000"/>
<circle cx="418.6" cy="238.2" r="4.3" fill="#fff" stroke="#ff0000" stroke-width="2.5"/>
<circle cx="512.6" cy="161.7" r="4.3" fill="#fff" stroke="#ff0000" stroke-width="2.5"/>
<circle cx="549.7" cy="174.6" r="4.3" fill="#fff" stroke="#ff0000" stroke-width="2.5"/>
<circle cx="621.4" cy="111.6" r="4.3" fill="#fff" stroke="#ff0000" stroke-width="2.5"/>
</g>
<rect x="30.7" y="24.6" width="303.7" height="304.3" fill="none" stroke="#000" stroke-width="1"/>
<g stroke="#000" stroke-width="1"><line x1="60.9" y1="328.9" x2="60.9" y2="332.6"/><line x1="94.7" y1="328.9" x2="94.7" y2="332.6"/><line x1="128.5" y1="328.9" x2="128.5" y2="332.6"/><line x1="162.3" y1="328.9" x2="162.3" y2="332.6"/><line x1="196.1" y1="328.9" x2="196.1" y2="332.6"/><line x1="229.9" y1="328.9" x2="229.9" y2="332.6"/><line x1="263.7" y1="328.9" x2="263.7" y2="332.6"/><line x1="297.5" y1="328.9" x2="297.5" y2="332.6"/><line x1="331.3" y1="328.9" x2="331.3" y2="332.6"/><line x1="27.0" y1="303.9" x2="30.7" y2="303.9"/><line x1="27.0" y1="262.1" x2="30.7" y2="262.1"/><line x1="27.0" y1="220.3" x2="30.7" y2="220.3"/><line x1="27.0" y1="178.5" x2="30.7" y2="178.5"/><line x1="27.0" y1="136.7" x2="30.7" y2="136.7"/><line x1="27.0" y1="94.8" x2="30.7" y2="94.8"/><line x1="27.0" y1="53.0" x2="30.7" y2="53.0"/></g>
<g font-family="'DejaVu Sans', 'Liberation Sans', sans-serif" font-size="10px" fill="#000"><text x="60.9" y="344.5" text-anchor="middle">−15</text><text x="94.7" y="344.5" text-anchor="middle">−10</text><text x="128.5" y="344.5" text-anchor="middle">−5</text><text x="162.3" y="344.5" text-anchor="middle">0</text><text x="196.1" y="344.5" text-anchor="middle">5</text><text x="229.9" y="344.5" text-anchor="middle">10</text><text x="263.7" y="344.5" text-anchor="middle">15</text><text x="297.5" y="344.5" text-anchor="middle">20</text><text x="331.3" y="344.5" text-anchor="middle">25</text><text x="23.1" y="307.7" text-anchor="end">−5</text><text x="23.1" y="265.9" text-anchor="end">0</text><text x="23.1" y="224.1" text-anchor="end">5</text><text x="23.1" y="182.3" text-anchor="end">10</text><text x="23.1" y="140.5" text-anchor="end">15</text><text x="23.1" y="98.6" text-anchor="end">20</text><text x="23.1" y="56.8" text-anchor="end">25</text></g>
<rect x="369.5" y="24.6" width="303.7" height="304.3" fill="none" stroke="#000" stroke-width="1"/>
<g stroke="#000" stroke-width="1"><line x1="399.7" y1="328.9" x2="399.7" y2="332.6"/><line x1="433.5" y1="328.9" x2="433.5" y2="332.6"/><line x1="467.3" y1="328.9" x2="467.3" y2="332.6"/><line x1="501.1" y1="328.9" x2="501.1" y2="332.6"/><line x1="534.9" y1="328.9" x2="534.9" y2="332.6"/><line x1="568.7" y1="328.9" x2="568.7" y2="332.6"/><line x1="602.5" y1="328.9" x2="602.5" y2="332.6"/><line x1="636.3" y1="328.9" x2="636.3" y2="332.6"/><line x1="670.1" y1="328.9" x2="670.1" y2="332.6"/><line x1="365.8" y1="303.9" x2="369.5" y2="303.9"/><line x1="365.8" y1="262.1" x2="369.5" y2="262.1"/><line x1="365.8" y1="220.3" x2="369.5" y2="220.3"/><line x1="365.8" y1="178.5" x2="369.5" y2="178.5"/><line x1="365.8" y1="136.7" x2="369.5" y2="136.7"/><line x1="365.8" y1="94.8" x2="369.5" y2="94.8"/><line x1="365.8" y1="53.0" x2="369.5" y2="53.0"/></g>
<g font-family="'DejaVu Sans', 'Liberation Sans', sans-serif" font-size="10px" fill="#000"><text x="399.7" y="344.5" text-anchor="middle">−15</text><text x="433.5" y="344.5" text-anchor="middle">−10</text><text x="467.3" y="344.5" text-anchor="middle">−5</text><text x="501.1" y="344.5" text-anchor="middle">0</text><text x="534.9" y="344.5" text-anchor="middle">5</text><text x="568.7" y="344.5" text-anchor="middle">10</text><text x="602.5" y="344.5" text-anchor="middle">15</text><text x="636.3" y="344.5" text-anchor="middle">20</text><text x="670.1" y="344.5" text-anchor="middle">25</text><text x="361.9" y="307.7" text-anchor="end">−5</text><text x="361.9" y="265.9" text-anchor="end">0</text><text x="361.9" y="224.1" text-anchor="end">5</text><text x="361.9" y="182.3" text-anchor="end">10</text><text x="361.9" y="140.5" text-anchor="end">15</text><text x="361.9" y="98.6" text-anchor="end">20</text><text x="361.9" y="56.8" text-anchor="end">25</text></g>
<text x="182.6" y="18.1" text-anchor="middle" font-family="'Liberation Serif', 'Times New Roman', serif" font-size="12.7px">A three-class ordinal dataset with nine labeled instances</text>
<text x="521.4" y="18.1" text-anchor="middle" font-family="'Liberation Serif', 'Times New Roman', serif" font-size="12.7px"><tspan font-family="'DejaVu Sans', sans-serif" font-style="italic" font-size="12.2px">k</tspan>-means clustering based candidate instance selection</text>
<text x="182.5" y="362.8" text-anchor="middle" font-family="'Liberation Serif', 'Times New Roman', serif" font-size="17px">(a)</text>
<text x="521.3" y="362.8" text-anchor="middle" font-family="'Liberation Serif', 'Times New Roman', serif" font-size="17px">(b)</text>
<rect x="37" y="31.2" width="194.6" height="75.6" rx="2" fill="#fff" fill-opacity="0.8" stroke="#ccc" stroke-width="1"/>
<circle cx="54.9" cy="41.8" r="4.0" fill="#1f77b4"/>
<text x="78.3" y="45.2" font-family="'Liberation Serif', 'Times New Roman', serif" font-size="12.7px">Unlabeled 1-th class instance</text>
<circle cx="54.9" cy="59.8" r="4.0" fill="#ff7f0e"/>
<text x="78.3" y="63.2" font-family="'Liberation Serif', 'Times New Roman', serif" font-size="12.7px">Unlabeled 2-th class instance</text>
<circle cx="54.9" cy="77.7" r="4.0" fill="#2ca02c"/>
<text x="78.3" y="81.1" font-family="'Liberation Serif', 'Times New Roman', serif" font-size="12.7px">Unlabeled 3-th class instance</text>
<polygon points="54.60,89.00 56.08,93.56 60.88,93.56 57.00,96.38 58.48,100.94 54.60,98.12 50.72,100.94 52.20,96.38 48.32,93.56 53.12,93.56" fill="#ff0000"/>
<text x="78.3" y="99.0" font-family="'Liberation Serif', 'Times New Roman', serif" font-size="12.7px">Labeled instance</text>
<rect x="375.6" y="31.2" width="142.8" height="39.4" rx="2" fill="#fff" fill-opacity="0.8" stroke="#ccc" stroke-width="1"/>
<polygon points="393.40,35.10 394.88,39.66 399.68,39.66 395.80,42.48 397.28,47.04 393.40,44.22 389.52,47.04 391.00,42.48 387.12,39.66 391.92,39.66" fill="#ff0000"/>
<circle cx="393.4" cy="59.8" r="4.7" fill="#fff" stroke="#ff0000" stroke-width="2.3"/>
<text x="416.8" y="45.1" font-family="'Liberation Serif', 'Times New Roman', serif" font-size="12.7px">Labeled instance</text>
<text x="416.8" y="63.2" font-family="'Liberation Serif', 'Times New Roman', serif" font-size="12.7px">Candidate instance</text>
</g>
</svg>
</body></html>
